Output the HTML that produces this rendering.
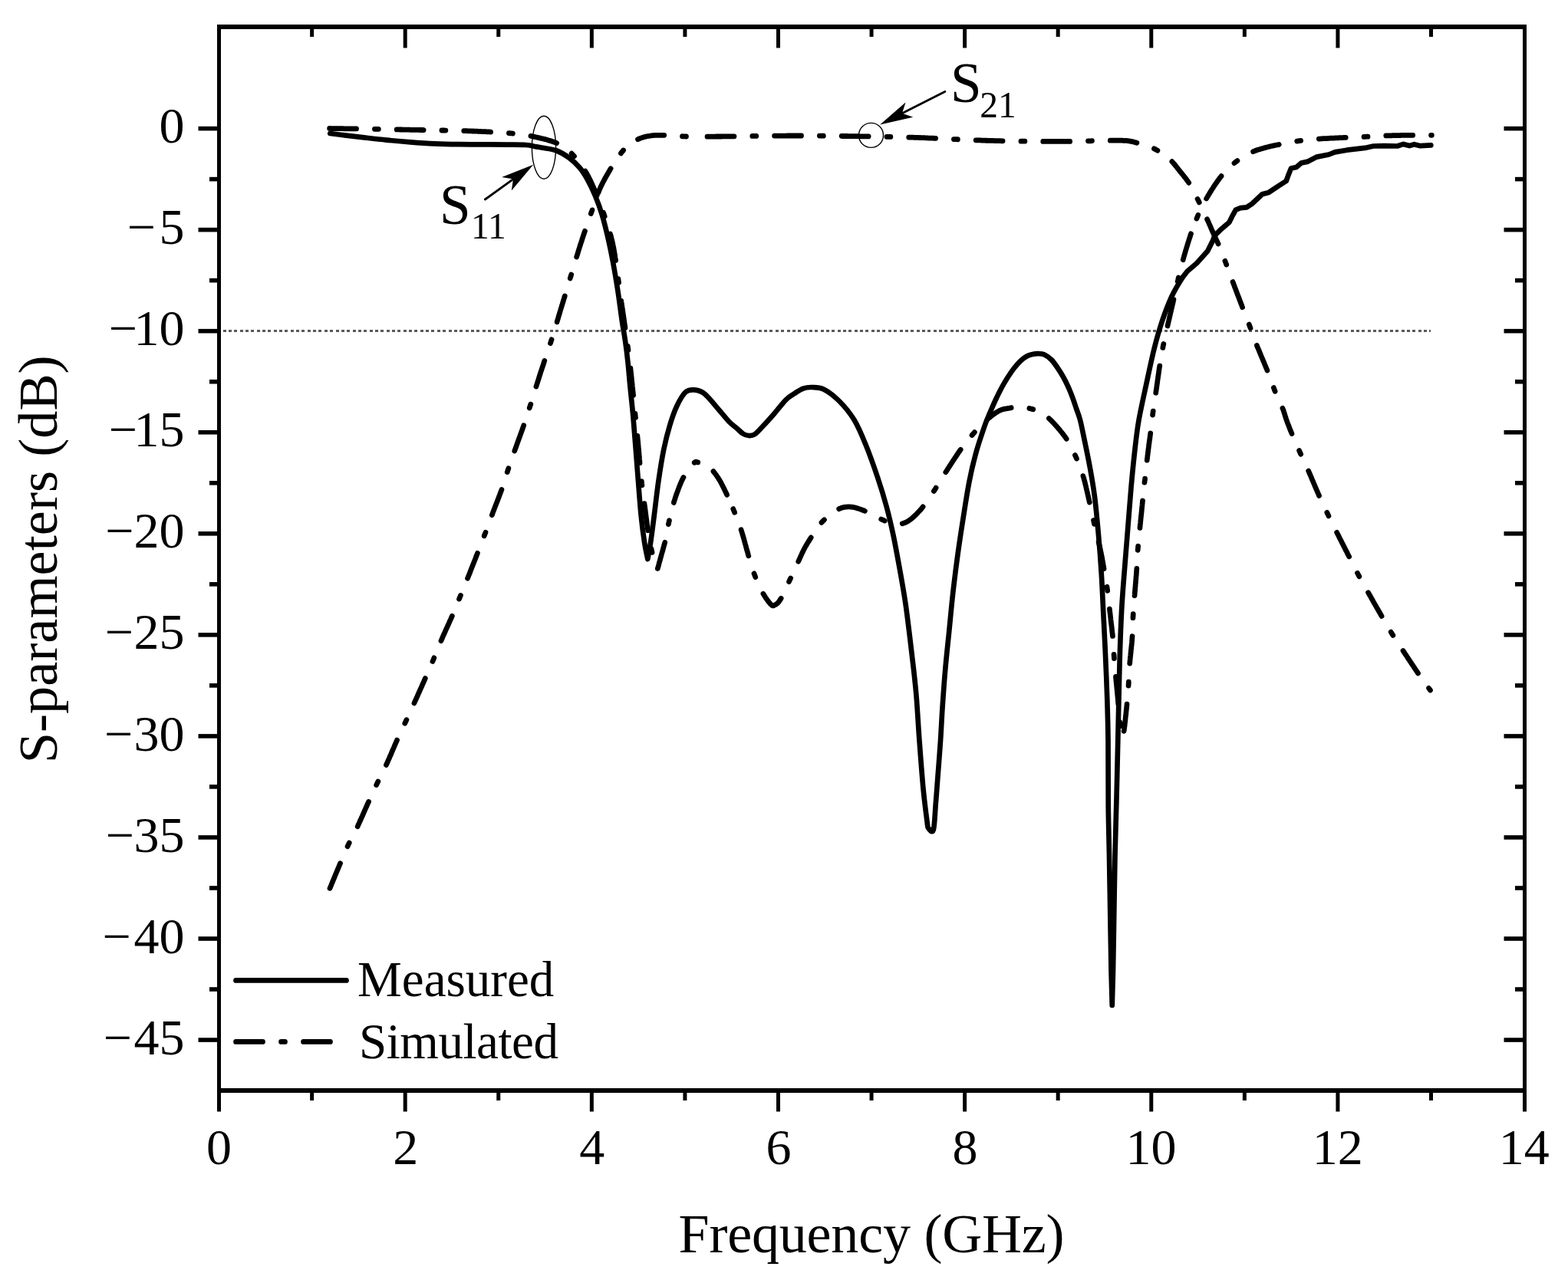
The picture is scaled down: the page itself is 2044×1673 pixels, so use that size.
<!DOCTYPE html>
<html lang="en"><head><meta charset="utf-8"><title>S-parameters</title>
<style>html,body{margin:0;padding:0;background:#fff}body{width:2044px;height:1673px;overflow:hidden}svg{display:block}text{font-family:"Liberation Serif",serif;fill:#000}</style>
</head><body>
<svg width="2044" height="1673" viewBox="0 0 2044 1673">
<rect width="2044" height="1673" fill="#fff"/>
<line x1="288" y1="431.5" x2="1865" y2="431.5" stroke="#5a5a5a" stroke-width="3" stroke-dasharray="4 3.35" stroke-dashoffset="-2.5" shape-rendering="crispEdges"/>
<g fill="none" stroke="#000" stroke-width="6.70" stroke-linecap="round" stroke-linejoin="round">
<path transform="scale(1 1.01250)" d="M429.8 1144.5L430.1 1143.7L430.5 1142.9L430.9 1141.9L431.4 1140.8L431.9 1139.6L432.4 1138.3L433.0 1136.9L433.6 1135.5L434.2 1134.0L434.8 1132.5L435.5 1130.9L436.2 1129.3L436.8 1127.7L437.5 1126.1L438.2 1124.4L438.9 1122.8L439.6 1121.2L440.3 1119.6L440.9 1118.0L441.6 1116.5L442.2 1115.1L442.8 1113.7L443.3 1112.3L443.9 1111.1L444.4 1109.7L445.2 1108.1L445.8 1106.5L446.5 1104.9L447.1 1103.5L447.7 1102.1L448.3 1100.7L448.8 1099.4L449.4 1098.1L449.9 1096.9L450.5 1095.6L451.1 1094.4L451.6 1093.1L452.2 1091.8L452.8 1090.5L453.5 1089.1L454.1 1087.8L454.7 1086.5L455.4 1085.2L456.0 1083.9L456.7 1082.7L457.3 1081.4L458.0 1080.2L458.7 1078.9L459.3 1077.6L460.0 1076.3L460.7 1075.0L461.4 1073.7L462.2 1072.3L462.9 1070.9L463.6 1069.4L464.4 1067.9L465.2 1066.3L465.9 1064.8L466.5 1063.6L467.0 1062.3L467.7 1061.0L468.3 1059.7L468.9 1058.3L469.6 1056.9L470.2 1055.5L470.9 1054.0L471.5 1052.5L472.2 1051.1L472.9 1049.6L473.5 1048.1L474.2 1046.6L474.9 1045.1L475.5 1043.6L476.2 1042.1L476.8 1040.7L477.5 1039.3L478.1 1037.9L478.7 1036.5L479.3 1035.2L479.9 1033.9L480.5 1032.7L481.0 1031.5L481.8 1029.8L482.5 1028.2L483.2 1026.7L483.9 1025.2L484.6 1023.8L485.2 1022.4L485.8 1021.1L486.4 1019.8L487.1 1018.5L487.7 1017.2L488.3 1015.9L488.9 1014.7L489.5 1013.4L490.1 1012.1L490.7 1010.8L491.4 1009.4L492.0 1008.1L492.7 1006.8L493.3 1005.5L494.0 1004.2L494.6 1003.0L495.2 1001.7L495.9 1000.5L496.5 999.3L497.2 998.0L497.8 996.7L498.5 995.4L499.2 994.0L499.9 992.6L500.6 991.1L501.4 989.6L502.1 988.0L502.9 986.4L503.4 985.2L504.0 984.0L504.6 982.7L505.2 981.3L505.8 980.0L506.4 978.6L507.1 977.2L507.7 975.7L508.3 974.2L509.0 972.8L509.7 971.3L510.3 969.7L511.0 968.2L511.6 966.7L512.3 965.2L512.9 963.8L513.6 962.3L514.2 960.8L514.8 959.4L515.4 958.0L516.0 956.7L516.6 955.4L517.2 954.1L517.7 952.9L518.4 951.5L519.1 949.9L519.8 948.3L520.5 946.8L521.2 945.4L521.9 944.0L522.5 942.6L523.1 941.3L523.8 940.0L524.4 938.8L525.0 937.5L525.6 936.3L526.2 935.0L526.8 933.7L527.4 932.4L528.0 931.1L528.7 929.7L529.3 928.4L529.9 927.1L530.6 925.8L531.2 924.5L531.8 923.2L532.4 921.9L533.0 920.6L533.6 919.3L534.2 918.0L534.8 916.7L535.4 915.3L536.1 914.0L536.7 912.6L537.4 911.1L538.1 909.6L538.8 908.1L539.5 906.5L540.2 905.0L540.7 903.8L541.3 902.6L541.9 901.3L542.5 899.9L543.1 898.6L543.8 897.2L544.4 895.7L545.0 894.3L545.7 892.9L546.4 891.4L547.0 889.9L547.7 888.4L548.3 887.0L549.0 885.5L549.7 884.1L550.3 882.6L550.9 881.2L551.6 879.8L552.2 878.4L552.8 877.1L553.4 875.8L553.9 874.5L554.5 873.3L555.0 872.1L555.7 870.4L556.5 868.8L557.1 867.3L557.8 865.8L558.4 864.4L559.0 863.0L559.6 861.7L560.2 860.4L560.8 859.1L561.4 857.8L561.9 856.5L562.5 855.2L563.0 853.9L563.6 852.6L564.2 851.3L564.8 849.9L565.4 848.5L565.9 847.2L566.5 845.8L567.0 844.5L567.6 843.2L568.1 841.9L568.6 840.6L569.2 839.3L569.7 837.9L570.2 836.6L570.8 835.2L571.4 833.8L571.9 832.4L572.6 830.9L573.2 829.4L573.8 827.9L574.5 826.3L575.2 824.8L575.7 823.6L576.3 822.3L576.8 821.0L577.4 819.7L578.0 818.3L578.7 816.9L579.3 815.5L580.0 814.1L580.6 812.6L581.3 811.2L581.9 809.7L582.6 808.3L583.3 806.8L583.9 805.3L584.6 803.9L585.3 802.4L585.9 801.0L586.5 799.6L587.2 798.2L587.8 796.9L588.4 795.6L588.9 794.3L589.5 793.1L590.0 791.9L590.7 790.2L591.4 788.6L592.1 787.1L592.7 785.6L593.3 784.1L593.9 782.7L594.5 781.3L595.1 779.9L595.6 778.6L596.2 777.2L596.7 775.9L597.2 774.6L597.8 773.3L598.3 771.9L598.9 770.6L599.4 769.3L600.0 767.9L600.6 766.5L601.2 765.1L601.7 763.8L602.3 762.5L602.8 761.2L603.3 759.9L603.9 758.6L604.4 757.3L605.0 756.0L605.5 754.6L606.1 753.3L606.7 751.8L607.3 750.4L607.9 748.8L608.6 747.2L609.3 745.5L609.8 744.1L610.3 742.9L610.8 741.6L611.4 740.3L611.9 739.0L612.5 737.6L613.0 736.1L613.6 734.7L614.2 733.2L614.8 731.7L615.4 730.2L616.0 728.7L616.6 727.2L617.2 725.7L617.8 724.2L618.4 722.7L619.0 721.2L619.6 719.7L620.1 718.3L620.7 716.9L621.2 715.5L621.8 714.1L622.3 712.8L622.8 711.6L623.2 710.4L623.9 708.7L624.6 707.0L625.2 705.5L625.8 704.0L626.4 702.5L626.9 701.1L627.5 699.7L628.0 698.4L628.5 697.1L629.1 695.8L629.6 694.5L630.1 693.2L630.6 691.9L631.1 690.5L631.6 689.2L632.1 687.8L632.7 686.4L633.2 685.1L633.7 683.7L634.2 682.4L634.7 681.1L635.2 679.8L635.6 678.6L636.1 677.3L636.6 676.0L637.1 674.6L637.6 673.3L638.1 671.9L638.6 670.4L639.2 668.9L639.8 667.4L640.4 665.8L641.0 664.0L641.6 662.7L642.0 661.4L642.5 660.1L643.0 658.8L643.6 657.4L644.1 656.0L644.7 654.6L645.2 653.1L645.8 651.6L646.4 650.1L647.0 648.6L647.6 647.1L648.2 645.6L648.8 644.0L649.4 642.5L650.0 641.0L650.6 639.5L651.1 638.0L651.7 636.5L652.2 635.1L652.8 633.7L653.3 632.3L653.8 631.0L654.3 629.7L654.7 628.4L655.2 627.1L655.8 625.3L656.4 623.7L656.9 622.1L657.4 620.6L657.9 619.1L658.3 617.7L658.7 616.3L659.1 615.0L659.5 613.7L659.9 612.4L660.3 611.1L660.7 609.7L661.1 608.4L661.6 607.0L662.0 605.6L662.5 604.2L663.0 602.8L663.4 601.5L663.9 600.1L664.4 598.8L664.8 597.5L665.3 596.1L665.8 594.8L666.2 593.5L666.7 592.1L667.2 590.7L667.7 589.3L668.2 587.9L668.8 586.4L669.3 584.9L669.9 583.3L670.5 581.7L671.0 580.1L671.5 578.7L672.0 577.4L672.5 576.1L673.0 574.7L673.5 573.3L674.0 571.9L674.5 570.4L675.1 568.9L675.6 567.4L676.2 565.9L676.7 564.4L677.3 562.9L677.9 561.3L678.4 559.8L679.0 558.3L679.5 556.8L680.1 555.3L680.6 553.8L681.1 552.4L681.6 551.0L682.1 549.6L682.6 548.3L683.0 547.0L683.5 545.7L684.0 544.3L684.5 542.7L685.1 541.1L685.6 539.7L686.0 538.4L686.4 537.1L686.8 535.9L687.2 534.7L687.6 533.5L688.0 532.3L688.4 531.0L688.9 529.7L689.3 528.2L689.8 526.6L690.4 524.8L691.0 522.9L691.5 521.5L691.9 520.3L692.2 519.1L692.6 517.9L693.0 516.6L693.5 515.3L693.9 514.0L694.3 512.6L694.8 511.2L695.2 509.7L695.7 508.3L696.1 506.8L696.6 505.3L697.1 503.8L697.6 502.3L698.1 500.7L698.5 499.2L699.0 497.6L699.5 496.1L700.0 494.5L700.5 493.0L701.0 491.4L701.5 489.9L702.0 488.3L702.5 486.8L703.0 485.3L703.4 483.8L703.9 482.3L704.4 480.9L704.8 479.5L705.3 478.0L705.8 476.6L706.3 475.1L706.8 473.6L707.3 472.2L707.8 470.7L708.3 469.3L708.8 467.8L709.2 466.4L709.7 464.9L710.2 463.5L710.7 462.1L711.2 460.6L711.7 459.2L712.2 457.8L712.7 456.3L713.2 454.9L713.7 453.5L714.2 452.1L714.6 450.7L715.1 449.2L715.6 447.8L716.1 446.4L716.6 445.0L717.0 443.5L717.5 442.1L718.0 440.7L718.4 439.2L718.9 437.8L719.4 436.4L719.8 434.9L720.3 433.5L720.7 432.1L721.2 430.6L721.6 429.2L722.1 427.8L722.5 426.4L722.9 424.9L723.4 423.5L723.8 422.1L724.2 420.7L724.7 419.2L725.1 417.8L725.5 416.4L726.0 415.0L726.4 413.5L726.8 412.1L727.3 410.7L727.7 409.2L728.1 407.8L728.6 406.3L729.0 404.9L729.5 403.4L729.9 401.9L730.3 400.5L730.8 399.0L731.2 397.5L731.7 396.1L732.1 394.7L732.5 393.3L733.0 391.9L733.4 390.5L733.9 389.0L734.3 387.6L734.7 386.2L735.2 384.7L735.6 383.3L736.1 381.8L736.5 380.4L737.0 378.9L737.4 377.5L737.8 376.0L738.3 374.5L738.7 373.1L739.2 371.6L739.6 370.2L740.1 368.7L740.5 367.3L741.0 365.8L741.4 364.4L741.9 362.9L742.3 361.5L742.7 360.0L743.2 358.6L743.6 357.2L744.1 355.7L744.5 354.3L745.0 352.9L745.4 351.4L745.8 349.9L746.3 348.5L746.7 347.0L747.2 345.5L747.6 344.1L748.1 342.6L748.5 341.2L749.0 339.7L749.4 338.3L749.8 336.8L750.3 335.4L750.7 333.9L751.2 332.5L751.6 331.0L752.0 329.6L752.5 328.2L752.9 326.7L753.4 325.3L753.8 323.8L754.3 322.4L754.7 321.0L755.2 319.5L755.6 318.1L756.1 316.7L756.6 315.2L757.0 313.8L757.5 312.3L758.0 310.9L758.5 309.5L758.9 308.0L759.4 306.5L759.9 305.0L760.4 303.6L760.9 302.1L761.4 300.6L761.9 299.1L762.5 297.6L763.0 296.1L763.5 294.6L764.0 293.1L764.5 291.7L765.0 290.2L765.5 288.7L766.0 287.3L766.5 285.8L767.0 284.4L767.5 283.0L768.0 281.6L768.5 280.2L769.0 278.8L769.5 277.5L770.0 276.2L770.4 274.9L770.9 273.6L771.3 272.3L771.8 271.1L772.3 269.4L772.9 267.8L773.5 266.2L774.0 264.7L774.5 263.2L775.0 261.7L775.5 260.3L776.0 258.9L776.4 257.5L776.9 256.1L777.4 254.8L777.9 253.4L778.4 252.1L778.8 250.8L779.3 249.5L779.9 248.2L780.4 246.9L780.9 245.6L781.5 244.2L782.1 242.9L782.7 241.5L783.4 240.1L784.0 238.8L784.7 237.4L785.4 236.0L786.1 234.6L786.9 233.2L787.6 231.8L788.4 230.4L789.1 229.0L789.9 227.7L790.7 226.3L791.5 225.0L792.2 223.7L793.0 222.4L793.7 221.1L794.5 219.9L795.2 218.6L795.9 217.4L796.6 216.3L797.3 215.2L798.1 213.8L799.1 212.2L800.0 210.8L800.9 209.4L801.8 208.0L802.6 206.7L803.5 205.4L804.3 204.2L805.2 203.0L806.0 201.8L806.8 200.7L807.7 199.6L808.5 198.5L809.3 197.5L810.3 196.2L811.4 194.9L812.5 193.7L813.5 192.5L814.5 191.4L815.6 190.3L816.6 189.3L817.7 188.3L818.8 187.3L819.9 186.4L821.0 185.5L822.3 184.5L823.6 183.7L824.9 182.8L826.2 182.0L827.6 181.3L828.9 180.6L830.3 179.9L831.7 179.3L833.1 178.7L834.5 178.2L835.9 177.7L837.3 177.2L838.8 176.7L840.2 176.3L841.7 176.0L843.2 175.6L844.7 175.3L846.3 175.1L848.0 174.8L849.3 174.6L850.6 174.5L852.0 174.4L853.3 174.3L854.7 174.2L856.1 174.1L857.5 174.1L859.0 174.1L860.6 174.1L862.3 174.1L864.1 174.1L866.0 174.1L867.3 174.2L868.6 174.2L869.9 174.3L871.4 174.3L872.9 174.4L874.4 174.5L875.9 174.6L877.5 174.7L879.1 174.8L880.7 174.9L882.3 175.1L883.9 175.2L885.5 175.3L887.1 175.4L888.7 175.5L890.2 175.6L891.7 175.7L893.1 175.7L894.5 175.8L896.0 175.8L897.3 175.9L898.2 175.9L898.9 176.0L899.5 176.0L900.0 176.0L900.5 176.1L901.1 176.1L901.9 176.1L902.9 176.1L904.2 176.1L906.0 176.1L908.2 176.1L910.0 176.1" stroke-dasharray="35 23.8 5 23.8" stroke-dashoffset="87.1"/>
<path transform="scale(1 1.01250)" d="M910.0 176.1L913.2 176.0L917.0 176.0L919.1 176.0L920.0 176.0L921.0 176.0L922.0 176.0L923.1 176.0L924.1 176.0L925.2 175.9L926.3 175.9L927.5 175.9L928.7 175.9L929.9 175.9L931.1 175.9L932.4 175.9L933.6 175.8L934.9 175.8L936.3 175.8L937.6 175.8L939.0 175.8L940.4 175.8L941.8 175.7L943.2 175.7L944.7 175.7L946.2 175.7L947.6 175.7L949.1 175.7L950.7 175.6L952.2 175.6L953.8 175.6L955.3 175.6L956.9 175.6L958.5 175.5L960.1 175.5L961.7 175.5L963.4 175.5L965.0 175.5L966.6 175.4L968.3 175.4L970.0 175.4L971.6 175.4L973.3 175.3L975.0 175.3L976.7 175.3L978.4 175.3L980.1 175.3L981.8 175.2L983.5 175.2L985.2 175.2L986.9 175.2L988.6 175.2L990.3 175.1L992.0 175.1L993.7 175.1L995.4 175.1L997.1 175.1L998.8 175.1L1000.5 175.0L1002.2 175.0L1003.8 175.0L1005.5 175.0L1007.2 175.0L1008.8 175.0L1010.5 174.9L1012.1 174.9L1013.7 174.9L1015.4 174.9L1017.0 174.9L1018.6 174.9L1020.1 174.9L1021.7 174.9L1023.3 174.9L1024.8 174.9L1026.3 174.8L1027.8 174.8L1029.3 174.8L1030.8 174.8L1032.2 174.8L1033.7 174.8L1035.1 174.8L1036.5 174.8L1038.2 174.8L1039.8 174.8L1041.4 174.8L1043.1 174.8L1044.7 174.8L1046.3 174.8L1048.0 174.8L1049.6 174.8L1051.2 174.8L1052.8 174.8L1054.5 174.8L1056.1 174.9L1057.7 174.9L1059.3 174.9L1061.0 174.9L1062.6 174.9L1064.2 174.9L1065.8 174.9L1067.4 174.9L1069.0 174.9L1070.6 175.0L1072.2 175.0L1073.8 175.0L1075.4 175.0L1077.0 175.0L1078.5 175.0L1080.1 175.0L1081.7 175.1L1083.2 175.1L1084.8 175.1L1086.4 175.1L1087.9 175.1L1089.4 175.1L1091.0 175.2L1092.5 175.2L1094.0 175.2L1095.5 175.2L1097.0 175.2L1098.5 175.3L1100.0 175.3L1101.5 175.3L1103.0 175.3L1104.5 175.3L1105.9 175.4L1107.4 175.4L1108.8 175.4L1110.3 175.4L1111.7 175.4L1113.1 175.5L1114.5 175.5L1115.9 175.5L1117.3 175.5L1118.7 175.5L1120.0 175.6L1121.4 175.6L1122.8 175.6L1124.1 175.6L1125.4 175.6L1126.7 175.7L1128.0 175.7L1129.3 175.7L1130.6 175.7L1131.9 175.7L1133.1 175.8L1134.4 175.8L1135.6 175.8L1137.3 175.8L1139.2 175.9L1141.0 175.9L1142.8 175.9L1144.5 175.9L1146.2 176.0L1147.8 176.0L1149.5 176.0L1151.0 176.0L1152.5 176.1L1154.0 176.1L1155.5 176.1L1157.0 176.1L1158.4 176.2L1159.8 176.2L1161.1 176.2L1162.5 176.3L1163.8 176.3L1165.2 176.3L1166.5 176.3L1167.8 176.4L1169.1 176.4L1170.4 176.4L1171.7 176.5L1173.1 176.5L1174.4 176.5L1175.7 176.6L1177.1 176.6L1178.4 176.6L1179.8 176.7L1181.2 176.7L1182.6 176.8L1184.0 176.8L1185.5 176.9L1187.0 176.9L1188.5 176.9L1190.1 177.0L1191.7 177.1L1193.3 177.1L1195.0 177.2L1196.7 177.2L1198.5 177.3L1199.8 177.3L1201.1 177.4L1202.4 177.4L1203.8 177.5L1205.1 177.5L1206.5 177.6L1207.8 177.6L1209.2 177.7L1210.6 177.8L1212.0 177.8L1213.4 177.9L1214.9 177.9L1216.3 178.0L1217.8 178.1L1219.2 178.1L1220.7 178.2L1222.2 178.3L1223.7 178.3L1225.1 178.4L1226.6 178.5L1228.2 178.6L1229.7 178.6L1231.2 178.7L1232.7 178.8L1234.3 178.8L1235.8 178.9L1237.3 179.0L1238.9 179.1L1240.4 179.1L1242.0 179.2L1243.5 179.3L1245.1 179.4L1246.7 179.4L1248.2 179.5L1249.8 179.6L1251.4 179.6L1252.9 179.7L1254.5 179.8L1256.1 179.9L1257.7 179.9L1259.2 180.0L1260.8 180.1L1262.4 180.1L1263.9 180.2L1265.5 180.3L1267.1 180.3L1268.6 180.4L1270.2 180.5L1271.7 180.5L1273.3 180.6L1274.8 180.6L1276.4 180.7L1277.9 180.7L1279.4 180.8L1281.0 180.8L1282.5 180.9L1284.0 180.9L1285.5 181.0L1287.0 181.0L1288.5 181.1L1290.0 181.1L1291.6 181.1L1293.1 181.2L1294.7 181.2L1296.2 181.3L1297.8 181.3L1299.4 181.3L1301.0 181.4L1302.5 181.4L1304.1 181.4L1305.7 181.5L1307.3 181.5L1308.9 181.5L1310.6 181.5L1312.2 181.6L1313.8 181.6L1315.4 181.6L1317.0 181.7L1318.6 181.7L1320.2 181.7L1321.8 181.7L1323.5 181.8L1325.1 181.8L1326.7 181.8L1328.3 181.8L1329.9 181.9L1331.5 181.9L1333.0 181.9L1334.6 181.9L1336.2 181.9L1337.8 181.9L1339.3 182.0L1340.9 182.0L1342.4 182.0L1343.9 182.0L1345.5 182.0L1347.0 182.0L1348.5 182.1L1349.9 182.1L1351.4 182.1L1352.9 182.1L1354.3 182.1L1355.7 182.1L1357.2 182.1L1358.6 182.1L1359.9 182.2L1361.3 182.2L1362.7 182.2L1364.0 182.2L1365.3 182.2L1366.6 182.2L1367.9 182.2L1369.1 182.2L1370.3 182.2L1371.5 182.2L1372.7 182.2L1374.2 182.2L1376.3 182.2L1378.3 182.2L1380.2 182.2L1382.1 182.2L1383.9 182.2L1385.6 182.2L1387.3 182.2L1389.0 182.2L1390.6 182.1L1392.1 182.1L1393.6 182.1L1395.1 182.1L1396.5 182.0L1397.9 182.0L1399.3 182.0L1400.7 181.9L1402.0 181.9L1403.3 181.9L1404.6 181.8L1405.9 181.8L1407.2 181.8L1408.5 181.7L1409.8 181.7L1411.1 181.7L1412.4 181.6L1413.7 181.6L1415.0 181.6L1416.4 181.6L1417.7 181.5L1419.1 181.5L1420.5 181.5L1422.0 181.5L1423.6 181.4L1425.2 181.4L1426.9 181.4L1428.5 181.3L1430.1 181.3L1431.8 181.3L1433.4 181.2L1435.0 181.2L1436.7 181.1L1438.3 181.1L1439.9 181.1L1441.5 181.0L1443.1 181.0L1444.7 181.0L1446.3 180.9L1447.9 180.9L1449.4 180.9L1450.9 180.8L1452.4 180.8L1453.8 180.8L1455.3 180.8L1456.6 180.8L1458.0 180.8L1459.3 180.8L1460.6 180.9L1461.8 180.9L1463.0 180.9L1464.1 181.0L1466.0 181.1L1468.1 181.2L1470.0 181.4L1471.7 181.6L1473.2 181.8L1474.6 182.1L1475.9 182.3L1477.1 182.6L1478.3 183.0L1479.6 183.3L1480.8 183.6L1482.1 184.0L1483.5 184.4L1485.0 184.8L1486.4 185.2L1487.8 185.6L1489.2 186.0L1490.6 186.4L1492.1 186.8L1493.5 187.3L1495.0 187.7L1496.4 188.2L1497.8 188.7L1499.3 189.3L1500.7 189.8L1502.1 190.4L1503.5 191.0L1504.9 191.7L1506.2 192.3L1507.5 193.0L1508.8 193.7L1510.2 194.5L1511.5 195.3L1512.8 196.1L1514.0 196.9L1515.3 197.8L1516.6 198.6L1517.8 199.5L1519.0 200.4L1520.2 201.4L1521.4 202.3L1522.6 203.3L1523.7 204.3L1524.9 205.3L1526.0 206.3L1527.1 207.4L1528.2 208.5L1529.2 209.7L1530.3 210.9L1531.3 212.0L1532.3 213.3L1533.3 214.5L1534.3 215.7L1535.2 216.9L1536.2 218.1L1537.1 219.2L1538.0 220.4L1538.9 221.5L1539.9 222.7L1540.9 223.9L1541.9 225.1L1542.8 226.2L1543.7 227.4L1544.6 228.5L1545.5 229.6L1546.4 230.7L1547.2 231.9L1548.1 233.1L1549.0 234.3L1549.8 235.6L1550.8 237.0L1551.5 238.2L1552.2 239.4L1552.9 240.6L1553.6 241.9L1554.3 243.2L1555.1 244.5L1555.8 245.9L1556.5 247.2L1557.2 248.6L1557.9 250.0L1558.6 251.4L1559.4 252.8L1560.1 254.2L1560.8 255.7L1561.5 257.1L1562.2 258.5L1562.9 259.8L1563.5 261.1L1564.2 262.4L1564.9 263.8L1565.5 265.2L1566.2 266.6L1566.9 268.0L1567.6 269.4L1568.2 270.8L1568.9 272.2L1569.5 273.5L1570.2 274.9L1570.8 276.3L1571.5 277.6L1572.1 278.9L1572.7 280.2L1573.2 281.5L1573.9 283.0L1574.6 284.5L1575.3 285.9L1575.9 287.4L1576.5 288.8L1577.2 290.2L1577.8 291.6L1578.4 293.0L1578.9 294.3L1579.5 295.7L1580.1 297.0L1580.7 298.3L1581.2 299.6L1581.8 300.8L1582.5 302.2L1583.1 303.7L1583.8 305.0L1584.4 306.3L1585.0 307.6L1585.6 308.9L1586.3 310.2L1586.9 311.5L1587.5 312.8L1588.2 314.2L1588.8 315.7L1589.5 317.3L1590.0 318.5L1590.6 319.8L1591.1 321.1L1591.6 322.5L1592.2 323.9L1592.8 325.3L1593.3 326.7L1593.9 328.2L1594.5 329.6L1595.0 331.1L1595.6 332.6L1596.2 334.1L1596.7 335.6L1597.3 337.1L1597.9 338.5L1598.4 340.0L1598.9 341.3L1599.4 342.6L1599.9 343.9L1600.4 345.2L1600.9 346.5L1601.4 347.8L1601.8 349.1L1602.3 350.4L1602.8 351.7L1603.3 353.1L1603.8 354.5L1604.4 356.0L1604.9 357.5L1605.5 359.0L1606.1 360.7L1606.8 362.4L1607.3 363.8L1607.8 365.0L1608.3 366.3L1608.8 367.6L1609.3 369.0L1609.8 370.4L1610.4 371.8L1611.0 373.3L1611.5 374.8L1612.1 376.3L1612.7 377.9L1613.3 379.4L1613.9 380.9L1614.5 382.5L1615.1 384.0L1615.6 385.5L1616.2 387.0L1616.8 388.5L1617.4 390.0L1617.9 391.4L1618.5 392.8L1619.0 394.2L1619.5 395.5L1620.0 396.8L1620.4 398.0L1621.0 399.4L1621.7 401.1L1622.3 402.8L1622.9 404.4L1623.5 405.9L1624.1 407.3L1624.6 408.7L1625.2 410.0L1625.7 411.3L1626.2 412.6L1626.7 413.9L1627.2 415.1L1627.7 416.4L1628.2 417.7L1628.8 419.1L1629.3 420.5L1629.8 421.9L1630.3 423.2L1630.8 424.5L1631.3 425.8L1631.8 427.1L1632.2 428.4L1632.7 429.7L1633.2 431.0L1633.6 432.3L1634.1 433.7L1634.6 435.0L1635.2 436.5L1635.7 437.9L1636.3 439.5L1636.9 441.0L1637.6 442.7L1638.2 444.4L1638.7 445.6L1639.2 446.9L1639.8 448.1L1640.3 449.5L1640.9 450.8L1641.5 452.2L1642.1 453.7L1642.7 455.1L1643.3 456.6L1643.9 458.1L1644.6 459.6L1645.2 461.1L1645.9 462.6L1646.5 464.1L1647.1 465.6L1647.8 467.1L1648.4 468.6L1649.0 470.1L1649.6 471.5L1650.2 472.9L1650.8 474.3L1651.4 475.7L1651.9 477.0L1652.4 478.2L1652.9 479.5L1653.5 480.8L1654.2 482.5L1654.8 484.2L1655.4 485.7L1655.9 487.3L1656.5 488.7L1657.0 490.1L1657.5 491.5L1657.9 492.8L1658.4 494.1L1658.9 495.4L1659.3 496.7L1659.8 498.0L1660.3 499.3L1660.8 500.6L1661.3 501.9L1661.8 503.2L1662.4 504.7L1663.0 506.1L1663.7 507.6L1664.3 509.0L1665.0 510.5L1665.7 512.0L1666.3 513.4L1667.0 514.9L1667.7 516.3L1668.3 517.7L1669.0 519.1L1669.6 520.5L1670.2 521.8L1670.8 523.1L1671.3 524.3L1671.8 525.5L1672.5 527.1L1673.1 528.7L1673.6 530.2L1674.0 531.6L1674.5 532.9L1674.9 534.2L1675.2 535.5L1675.7 536.8L1676.1 538.2L1676.6 539.7L1677.2 541.2L1677.6 542.4L1678.1 543.8L1678.6 545.1L1679.1 546.4L1679.7 547.8L1680.2 549.2L1680.8 550.6L1681.3 552.1L1681.9 553.5L1682.5 555.0L1683.2 556.6L1683.8 558.1L1684.5 559.8L1685.0 561.0L1685.6 562.3L1686.2 563.7L1686.8 565.0L1687.4 566.4L1688.0 567.8L1688.6 569.2L1689.3 570.7L1689.9 572.1L1690.6 573.5L1691.2 575.0L1691.9 576.4L1692.5 577.9L1693.1 579.3L1693.8 580.7L1694.4 582.1L1695.0 583.5L1695.7 584.9L1696.3 586.2L1696.9 587.6L1697.5 588.8L1698.1 590.1L1698.7 591.4L1699.3 592.6L1699.9 593.9L1700.5 595.2L1701.1 596.5L1701.7 597.8L1702.3 599.1L1703.0 600.5L1703.6 602.0L1704.3 603.5L1705.0 605.0L1705.8 606.7L1706.3 607.9L1706.8 609.1L1707.4 610.4L1708.0 611.7L1708.6 613.1L1709.2 614.5L1709.8 615.9L1710.4 617.4L1711.0 618.8L1711.7 620.3L1712.3 621.8L1713.0 623.3L1713.6 624.8L1714.2 626.3L1714.9 627.8L1715.5 629.2L1716.1 630.7L1716.8 632.1L1717.4 633.5L1718.0 634.9L1718.6 636.2L1719.1 637.5L1719.7 638.8L1720.2 640.0L1721.0 641.6L1721.7 643.2L1722.4 644.6L1723.1 646.1L1723.7 647.5L1724.4 648.9L1725.0 650.2L1725.6 651.5L1726.3 652.8L1726.9 654.0L1727.5 655.3L1728.1 656.6L1728.7 657.8L1729.4 659.1L1730.0 660.4L1730.6 661.7L1731.3 663.0L1731.9 664.4L1732.6 665.7L1733.2 667.0L1733.9 668.3L1734.5 669.6L1735.1 670.8L1735.8 672.1L1736.4 673.4L1737.1 674.7L1737.7 676.0L1738.4 677.3L1739.1 678.6L1739.7 680.0L1740.5 681.4L1741.2 682.9L1741.9 684.3L1742.7 685.9L1743.4 687.3L1744.1 688.5L1744.7 689.7L1745.3 691.0L1746.0 692.3L1746.7 693.7L1747.4 695.0L1748.1 696.4L1748.8 697.8L1749.5 699.2L1750.3 700.6L1751.0 702.0L1751.7 703.5L1752.5 704.9L1753.2 706.3L1753.9 707.7L1754.6 709.1L1755.4 710.5L1756.1 711.8L1756.7 713.2L1757.4 714.5L1758.1 715.7L1758.7 716.9L1759.3 718.1L1760.0 719.6L1760.8 721.1L1761.6 722.6L1762.3 724.0L1763.0 725.4L1763.7 726.7L1764.4 728.0L1765.0 729.3L1765.7 730.6L1766.3 731.9L1767.0 733.1L1767.6 734.4L1768.3 735.6L1768.9 736.9L1769.6 738.2L1770.3 739.5L1771.0 740.8L1771.7 742.1L1772.4 743.4L1773.1 744.7L1773.8 745.9L1774.5 747.2L1775.2 748.5L1776.0 749.7L1776.7 751.0L1777.4 752.3L1778.1 753.6L1778.9 754.9L1779.6 756.2L1780.4 757.5L1781.2 758.9L1782.0 760.3L1782.8 761.7L1783.6 763.2L1784.5 764.7L1785.2 765.9L1785.9 767.1L1786.6 768.3L1787.3 769.6L1788.0 770.9L1788.8 772.2L1789.6 773.6L1790.3 774.9L1791.1 776.3L1791.9 777.7L1792.7 779.0L1793.5 780.4L1794.3 781.8L1795.1 783.2L1795.9 784.5L1796.7 785.9L1797.4 787.2L1798.2 788.5L1799.0 789.8L1799.7 791.1L1800.4 792.3L1801.1 793.5L1801.8 794.7L1802.6 796.1L1803.5 797.6L1804.3 799.0L1805.1 800.4L1805.9 801.8L1806.7 803.1L1807.5 804.4L1808.2 805.7L1809.0 806.9L1809.7 808.2L1810.4 809.4L1811.2 810.6L1811.9 811.9L1812.7 813.1L1813.4 814.3L1814.2 815.6L1815.0 816.9L1815.8 818.1L1816.6 819.4L1817.4 820.6L1818.2 821.8L1818.9 823.0L1819.7 824.2L1820.5 825.4L1821.3 826.6L1822.1 827.8L1822.9 829.0L1823.7 830.2L1824.6 831.4L1825.4 832.7L1826.3 834.0L1827.2 835.4L1828.2 836.8L1829.2 838.3L1830.0 839.5L1830.7 840.6L1831.5 841.8L1832.3 843.0L1833.2 844.2L1834.0 845.5L1834.9 846.8L1835.7 848.1L1836.6 849.4L1837.5 850.7L1838.4 852.1L1839.3 853.4L1840.2 854.8L1841.1 856.1L1842.0 857.4L1842.9 858.7L1843.8 860.1L1844.6 861.3L1845.5 862.6L1846.3 863.8L1847.2 865.0L1848.0 866.2L1848.7 867.3L1849.5 868.4L1850.6 869.9L1851.6 871.4L1852.7 872.9L1853.8 874.4L1854.8 875.9L1855.9 877.3L1856.9 878.7L1857.9 880.1L1858.9 881.4L1859.8 882.6L1860.7 883.8L1861.5 884.9L1862.3 885.9L1863.0 886.9L1863.6 887.7L1864.2 888.5L1864.5 888.9" stroke-dasharray="35 23.8 5 23.8" stroke-dashoffset="75.6"/>
<path transform="scale(1 1.01250)" d="M429.6 165.4L430.4 165.4L431.3 165.5L432.2 165.5L433.3 165.5L434.4 165.5L435.5 165.5L436.8 165.5L438.1 165.5L439.4 165.5L440.8 165.6L442.3 165.6L443.8 165.6L445.3 165.6L446.9 165.6L448.5 165.7L450.2 165.7L451.9 165.7L453.6 165.7L455.3 165.7L457.0 165.8L458.8 165.8L460.5 165.8L462.3 165.8L464.1 165.8L465.8 165.9L467.6 165.9L469.4 165.9L471.1 165.9L472.8 166.0L474.5 166.0L476.2 166.0L477.9 166.0L479.5 166.1L481.1 166.1L482.6 166.1L484.2 166.1L485.6 166.1L487.0 166.2L488.6 166.2L490.3 166.2L491.9 166.2L493.5 166.3L495.1 166.3L496.7 166.3L498.3 166.4L499.8 166.4L501.4 166.4L502.9 166.5L504.5 166.5L506.0 166.5L507.5 166.6L509.0 166.6L510.5 166.6L512.0 166.7L513.4 166.7L514.9 166.7L516.4 166.8L517.8 166.8L519.3 166.8L520.7 166.9L522.2 166.9L523.6 166.9L525.0 167.0L526.5 167.0L527.9 167.0L529.3 167.0L530.7 167.1L532.2 167.1L533.6 167.1L535.0 167.2L536.6 167.2L538.1 167.2L539.7 167.2L541.2 167.3L542.8 167.3L544.3 167.3L545.8 167.3L547.3 167.4L548.8 167.4L550.3 167.4L551.7 167.4L553.2 167.5L554.7 167.5L556.2 167.5L557.6 167.5L559.1 167.6L560.6 167.6L562.0 167.6L563.5 167.6L565.0 167.7L566.4 167.7L567.9 167.7L569.4 167.7L570.9 167.8L572.4 167.8L573.9 167.8L575.5 167.9L577.0 167.9L578.5 167.9L579.9 168.0L581.4 168.0L582.9 168.0L584.4 168.1L585.9 168.1L587.4 168.1L588.9 168.2L590.4 168.2L591.9 168.2L593.4 168.3L594.9 168.3L596.5 168.3L598.0 168.4L599.5 168.4L601.0 168.4L602.5 168.5L604.1 168.5L605.6 168.6L607.1 168.6L608.6 168.6L610.1 168.7L611.6 168.7L613.1 168.8L614.6 168.8L616.1 168.9L617.6 168.9L619.1 169.0L620.5 169.1L622.0 169.1L623.5 169.2L625.1 169.2L626.7 169.3L628.2 169.4L629.8 169.5L631.4 169.5L633.0 169.6L634.6 169.7L636.2 169.8L637.8 169.8L639.3 169.9L640.9 170.0L642.5 170.1L644.1 170.2L645.6 170.3L647.2 170.3L648.7 170.4L650.2 170.5L651.7 170.6L653.2 170.7L654.6 170.8L656.1 170.9L657.5 171.0L658.9 171.1L660.3 171.2L661.6 171.3L662.9 171.4L664.2 171.5L665.6 171.7L667.5 171.8L669.2 172.0L670.8 172.1L672.4 172.3L673.9 172.4L675.4 172.6L676.8 172.8L678.2 172.9L679.6 173.1L681.0 173.3L682.3 173.5L683.7 173.7L685.0 173.9L686.4 174.1L687.9 174.4L689.4 174.7L690.9 175.0L692.5 175.3L693.9 175.6L695.3 175.9L696.7 176.2L698.2 176.5L699.7 176.8L701.2 177.2L702.8 177.5L704.3 177.9L705.9 178.3L707.5 178.6L709.0 179.0L710.6 179.4L712.1 179.8L713.7 180.2L715.2 180.7L716.6 181.1L718.1 181.5L719.5 182.0L720.8 182.4L722.2 182.9L723.4 183.3L724.6 183.8L726.1 184.4L727.7 185.1L729.2 185.8L730.7 186.5L732.0 187.2L733.2 187.9L734.5 188.7L735.6 189.5L736.8 190.3L737.9 191.1L739.0 192.0L740.1 193.0L741.3 194.0L742.5 195.1L743.8 196.3L744.7 197.2L745.7 198.2L746.6 199.2L747.6 200.3L748.6 201.4L749.6 202.5L750.6 203.6L751.5 204.8L752.5 206.0L753.5 207.3L754.5 208.5L755.5 209.7L756.4 211.0L757.3 212.3L758.3 213.5L759.2 214.8L760.0 216.1L760.9 217.3L761.7 218.5L762.5 219.8L763.3 221.1L764.1 222.4L764.9 223.6L765.6 224.9L766.4 226.2L767.1 227.5L767.7 228.8L768.4 230.0L769.0 231.3L769.7 232.7L770.3 234.0L770.9 235.3L771.6 236.7L772.2 238.1L772.8 239.5L773.5 240.9L774.1 242.4L774.8 243.9L775.4 245.3L775.9 246.6L776.5 247.9L777.0 249.2L777.6 250.6L778.2 251.9L778.8 253.3L779.3 254.8L779.9 256.2L780.5 257.6L781.0 259.1L781.6 260.5L782.2 262.0L782.7 263.4L783.3 264.9L783.8 266.4L784.4 267.9L784.9 269.3L785.4 270.8L786.0 272.2L786.5 273.7L787.0 275.1L787.5 276.5L788.0 278.0L788.5 279.4L789.0 280.9L789.5 282.3L790.0 283.8L790.5 285.2L791.0 286.7L791.5 288.1L791.9 289.6L792.4 291.1L792.9 292.5L793.3 294.0L793.8 295.4L794.2 296.8L794.6 298.3L795.1 299.7L795.5 301.1L795.9 302.6L796.3 304.0L796.7 305.4L797.0 306.8L797.4 308.2L797.8 309.7L798.1 311.2L798.5 312.7L798.8 314.1L799.1 315.6L799.4 317.0L799.7 318.4L800.0 319.8L800.2 321.3L800.5 322.7L800.7 324.1L801.0 325.5L801.2 327.0L801.4 328.4L801.7 329.9L801.9 331.4L802.2 332.9L802.4 334.5L802.7 336.1L802.9 337.7L803.1 339.2L803.4 340.6L803.6 342.0L803.8 343.4L804.0 344.8L804.2 346.3L804.4 347.7L804.6 349.2L804.8 350.7L805.0 352.2L805.2 353.8L805.4 355.3L805.6 356.8L805.8 358.4L806.0 359.9L806.2 361.5L806.4 363.0L806.6 364.6L806.8 366.1L807.0 367.7L807.2 369.2L807.4 370.8L807.6 372.3L807.8 373.8L808.0 375.3L808.2 376.8L808.4 378.3L808.7 379.9L808.9 381.4L809.1 383.0L809.3 384.5L809.6 386.1L809.8 387.7L810.0 389.2L810.3 390.8L810.5 392.3L810.7 393.9L811.0 395.4L811.2 397.0L811.4 398.5L811.7 400.0L811.9 401.5L812.1 403.0L812.3 404.5L812.5 405.9L812.8 407.3L813.0 408.7L813.2 410.1L813.4 411.5L813.6 412.9L813.8 414.7L814.1 416.3L814.3 418.0L814.6 419.5L814.8 421.1L815.0 422.6L815.2 424.1L815.4 425.6L815.7 427.1L815.9 428.5L816.1 429.9L816.3 431.4L816.5 432.8L816.7 434.2L816.9 435.6L817.1 437.1L817.3 438.5L817.5 440.0L817.7 441.5L817.9 443.0L818.1 444.5L818.3 446.0L818.5 447.5L818.7 448.9L818.9 450.4L819.1 451.8L819.3 453.3L819.5 454.8L819.7 456.3L819.9 457.7L820.1 459.3L820.3 460.8L820.5 462.4L820.7 463.9L820.9 465.6L821.1 467.1L821.2 468.5L821.4 469.9L821.5 471.3L821.7 472.7L821.9 474.1L822.0 475.6L822.2 477.0L822.3 478.5L822.5 479.9L822.7 481.4L822.8 482.9L823.0 484.4L823.2 485.9L823.3 487.5L823.5 489.0L823.6 490.6L823.8 492.2L824.0 493.8L824.2 495.4L824.3 497.1L824.5 498.8L824.6 500.1L824.8 501.5L824.9 503.0L825.1 504.4L825.2 505.9L825.4 507.4L825.5 508.9L825.7 510.4L825.8 511.9L826.0 513.4L826.2 515.0L826.3 516.5L826.5 518.1L826.6 519.7L826.8 521.2L826.9 522.8L827.1 524.3L827.3 525.9L827.4 527.4L827.6 528.9L827.7 530.5L827.9 532.0L828.0 533.5L828.2 534.9L828.3 536.4L828.5 537.8L828.6 539.3L828.8 540.9L828.9 542.5L829.1 544.0L829.2 545.5L829.4 547.0L829.6 548.5L829.7 550.0L829.9 551.4L830.0 552.9L830.2 554.3L830.3 555.8L830.5 557.2L830.6 558.7L830.8 560.2L830.9 561.6L831.0 563.1L831.2 564.6L831.3 566.1L831.5 567.6L831.6 569.2L831.8 570.7L831.9 572.3L832.1 573.8L832.2 575.2L832.3 576.7L832.5 578.1L832.6 579.6L832.7 581.1L832.9 582.6L833.0 584.1L833.1 585.6L833.2 587.1L833.4 588.6L833.5 590.2L833.6 591.7L833.8 593.3L833.9 594.8L834.0 596.3L834.1 597.9L834.3 599.4L834.4 600.9L834.5 602.4L834.7 604.0L834.8 605.5L835.0 607.0L835.1 608.5L835.3 609.9L835.4 611.4L835.6 612.9L835.7 614.4L835.9 615.9L836.1 617.4L836.2 618.9L836.4 620.4L836.6 621.9L836.7 623.3L836.9 624.8L837.1 626.2L837.3 627.7L837.4 629.1L837.6 630.6L837.8 632.0L838.0 633.5L838.2 634.9L838.4 636.4L838.6 637.9L838.8 639.4L839.0 640.9L839.2 642.4L839.4 643.9L839.6 645.5L839.8 647.1L840.0 648.7L840.2 650.1L840.4 651.5L840.6 653.0L840.8 654.5L841.0 656.0L841.2 657.5L841.4 659.1L841.6 660.6L841.8 662.2L842.0 663.8L842.2 665.4L842.4 667.0L842.6 668.6L842.9 670.2L843.1 671.7L843.3 673.3L843.5 674.9L843.7 676.5L844.0 678.0L844.2 679.5L844.4 681.0L844.6 682.5L844.8 683.9L845.0 685.3L845.2 686.7L845.5 688.0L845.7 689.3L845.9 690.6L846.1 692.0L846.4 693.9L846.8 695.7L847.1 697.5L847.4 699.2L847.7 700.8L848.0 702.4L848.4 703.9L848.7 705.4L849.0 706.8L849.3 708.2L849.6 709.5L849.9 710.8L850.2 712.1L850.6 713.4L850.9 714.6L851.2 715.8L851.5 717.0L852.0 718.9L852.5 720.7L853.1 722.4L853.7 724.1L854.2 725.8L854.8 727.3L855.3 728.7L855.8 730.0L856.2 731.2L856.6 732.2L856.9 733.1L857.1 733.1L857.3 732.2L857.6 731.1L858.0 729.9L858.4 728.5L858.8 727.0L859.2 725.3L859.7 723.6L860.3 721.7L860.8 719.7L861.2 718.2L861.6 717.0L861.9 715.7L862.3 714.3L862.7 712.9L863.1 711.5L863.6 709.9L864.0 708.4L864.4 706.9L864.9 705.3L865.3 703.7L865.7 702.1L866.2 700.6L866.6 699.1L867.0 697.6L867.3 696.1L867.7 694.7L868.0 693.3L868.4 691.7L868.7 690.1L869.0 688.6L869.3 687.2L869.5 685.7L869.8 684.3L870.0 682.9L870.2 681.5L870.5 680.1L870.7 678.6L871.0 677.1L871.3 675.6L871.6 674.0L872.0 672.3L872.3 671.0L872.6 669.6L872.9 668.2L873.2 666.8L873.6 665.4L873.9 664.0L874.2 662.5L874.6 661.1L874.9 659.6L875.3 658.1L875.7 656.6L876.1 655.0L876.5 653.5L876.9 652.0L877.3 650.4L877.8 648.9L878.3 647.4L878.7 645.8L879.2 644.4L879.7 643.0L880.1 641.6L880.6 640.2L881.1 638.7L881.6 637.2L882.1 635.7L882.7 634.3L883.2 632.8L883.8 631.3L884.3 629.8L884.9 628.3L885.4 626.9L886.0 625.4L886.6 624.0L887.2 622.6L887.8 621.2L888.4 619.9L889.0 618.6L889.6 617.4L890.2 616.2L891.0 614.7L891.9 613.1L892.8 611.6L893.7 610.2L894.7 608.7L895.6 607.3L896.6 606.0L897.5 604.7L898.5 603.4L899.4 602.2L900.3 601.1L901.2 600.1L902.0 599.1L902.8 598.3L903.5 597.5L904.6 596.3L906.2 595.0L907.3 594.7L908.6 595.2L910.3 595.6L911.5 595.9L912.7 596.3L914.1 596.7L915.5 597.2L917.1 597.7L918.6 598.3L920.1 599.0L921.6 599.8L923.0 600.7L924.3 601.6L925.4 602.4L926.4 603.4L927.4 604.4L928.5 605.4L929.4 606.5L930.4 607.7L931.4 608.9L932.3 610.1L933.3 611.4L934.2 612.7L935.1 614.0L936.0 615.3L936.8 616.5L937.5 617.7L938.3 618.9L939.0 620.1L939.7 621.4L940.4 622.7L941.1 624.0L941.8 625.4L942.5 626.7L943.2 628.1L943.9 629.5L944.6 630.9L945.3 632.4L946.0 633.8L946.6 635.1L947.2 636.4L947.9 637.7L948.5 639.0L949.1 640.4L949.8 641.7L950.4 643.1L951.0 644.5" stroke-dasharray="35 23.8 5 23.8" stroke-dashoffset="0.0"/>
<path transform="scale(1 1.01250)" d="M951.0 644.5L951.6 645.9L952.2 647.3L952.9 648.7L953.5 650.1L954.1 651.6L954.8 653.1L955.4 654.6L956.0 656.0L956.5 657.4L957.1 658.7L957.6 660.0L958.2 661.3L958.7 662.6L959.3 663.9L959.8 665.3L960.4 666.6L960.9 668.0L961.5 669.4L962.0 670.8L962.5 672.2L963.1 673.7L963.6 675.2L964.2 676.7L964.7 678.2L965.3 679.8L965.8 681.4L966.3 682.8L966.7 684.2L967.1 685.5L967.6 687.0L968.0 688.4L968.4 689.9L968.9 691.4L969.3 692.9L969.8 694.5L970.2 696.0L970.6 697.6L971.1 699.2L971.5 700.7L972.0 702.3L972.4 703.8L972.8 705.4L973.2 706.9L973.6 708.4L974.1 709.8L974.5 711.2L974.9 712.6L975.2 714.0L975.6 715.3L976.0 716.5L976.5 718.3L977.0 719.9L977.5 721.5L978.0 723.1L978.4 724.6L978.8 726.0L979.3 727.4L979.7 728.8L980.1 730.2L980.5 731.5L981.0 732.8L981.4 734.2L981.8 735.5L982.3 736.8L982.8 738.2L983.3 739.5L983.9 741.0L984.4 742.4L985.0 743.8L985.6 745.3L986.2 746.8L986.8 748.2L987.4 749.7L988.1 751.1L988.7 752.5L989.3 753.9L990.0 755.3L990.6 756.7L991.3 758.0L992.0 759.3L992.6 760.6L993.3 761.8L994.1 763.2L994.9 764.7L995.8 766.2L996.8 767.6L997.7 769.1L998.6 770.5L999.6 771.8L1000.5 773.1L1001.4 774.3L1002.3 775.4L1003.1 776.4L1003.8 777.3L1004.5 778.0L1006.2 779.6L1007.6 780.2L1008.9 779.8L1010.3 779.1L1011.3 778.6L1012.2 778.0L1013.2 777.2L1014.3 776.2L1015.5 774.7L1016.8 772.8L1017.6 771.5L1018.2 770.5L1018.8 769.4L1019.4 768.2L1020.1 766.9L1020.7 765.6L1021.4 764.2L1022.1 762.8L1022.8 761.4L1023.5 759.9L1024.2 758.4L1024.9 756.8L1025.6 755.3L1026.3 753.8L1027.0 752.4L1027.7 750.9L1028.4 749.5L1029.0 748.1L1029.7 746.7L1030.3 745.3L1031.0 743.9L1031.7 742.5L1032.4 741.0L1033.0 739.6L1033.7 738.2L1034.3 736.8L1035.0 735.4L1035.6 734.0L1036.3 732.6L1036.9 731.3L1037.5 729.9L1038.2 728.6L1038.8 727.3L1039.4 726.0L1040.0 724.7L1040.7 723.1L1041.4 721.6L1042.1 720.1L1042.7 718.7L1043.4 717.3L1044.0 715.8L1044.7 714.5L1045.3 713.1L1045.9 711.8L1046.6 710.5L1047.2 709.2L1047.8 707.9L1048.5 706.7L1049.3 705.2L1050.0 703.9L1050.8 702.6L1051.5 701.3L1052.3 700.1L1053.0 698.9L1053.8 697.7L1054.6 696.4L1055.4 695.1L1056.3 693.8L1057.2 692.3L1058.0 691.2L1058.7 690.0L1059.4 688.8L1060.2 687.6L1060.9 686.4L1061.7 685.1L1062.5 683.8L1063.3 682.5L1064.1 681.2L1065.0 680.0L1065.9 678.7L1066.9 677.4L1067.9 676.1L1069.0 674.9L1070.1 673.7L1071.1 672.7L1072.1 671.7L1073.2 670.6L1074.3 669.6L1075.5 668.5L1076.7 667.4L1078.0 666.3L1079.2 665.2L1080.5 664.2L1081.8 663.2L1083.0 662.2L1084.3 661.2L1085.5 660.3L1086.8 659.4L1088.0 658.6L1089.1 657.9L1090.3 657.2L1091.5 656.5L1093.2 655.7L1094.7 655.0L1096.2 654.4L1097.7 653.9L1099.1 653.5L1100.5 653.2L1102.0 653.0L1103.4 652.9L1104.9 652.8L1106.4 652.8L1108.0 652.8L1109.4 652.9L1110.8 653.0L1112.2 653.3L1113.7 653.5L1115.1 653.9L1116.6 654.3L1118.0 654.7L1119.5 655.2L1121.0 655.7L1122.5 656.2L1124.0 656.8L1125.5 657.3L1127.0 657.9L1128.5 658.5L1129.8 659.1L1131.2 659.7L1132.6 660.3L1134.0 661.0L1135.4 661.7L1136.8 662.5L1138.2 663.2L1139.7 664.0L1141.1 664.7L1142.5 665.5L1143.8 666.2L1145.2 666.9L1146.5 667.6L1147.7 668.2L1149.0 668.8L1150.3 669.4L1152.0 670.1L1153.6 670.8L1155.2 671.4L1156.7 672.0L1158.2 672.5L1159.6 673.0L1160.9 673.4L1162.2 673.8L1163.5 674.2L1164.6 674.5L1166.3 674.9L1167.9 675.3L1169.2 675.5L1170.5 675.5L1171.8 675.4L1173.5 675.1L1174.7 674.8L1176.0 674.4L1177.3 674.0L1178.6 673.5L1180.1 673.0L1181.5 672.3L1183.0 671.5L1184.5 670.7L1186.0 669.6L1187.0 668.9L1188.1 668.1L1189.1 667.2L1190.2 666.3L1191.3 665.3L1192.4 664.3L1193.5 663.2L1194.7 662.1L1195.8 661.0L1196.9 659.8L1198.0 658.6L1199.2 657.4L1200.3 656.2L1201.3 655.0L1202.2 653.9L1203.1 652.8L1204.0 651.7L1204.9 650.5L1205.7 649.3L1206.6 648.1L1207.5 646.9L1208.4 645.6L1209.3 644.3L1210.2 643.1L1210.8 642.2" stroke-dasharray="35 23.8 5 23.8" stroke-dashoffset="46.9"/>
<path transform="scale(1 1.01250)" d="M1210.8 642.2L1211.7 640.9L1212.6 639.7L1213.4 638.4L1214.3 637.1L1215.2 635.8L1216.0 634.6L1216.8 633.3L1217.6 632.1L1218.4 630.9L1219.2 629.7L1219.9 628.6L1220.6 627.4L1221.4 626.2L1222.1 625.0L1222.9 623.8L1223.6 622.6L1224.4 621.3L1225.2 620.0L1226.0 618.7L1226.9 617.3L1227.8 615.9L1228.7 614.4L1229.8 612.8L1230.5 611.8L1231.2 610.6L1232.0 609.4L1232.8 608.2L1233.6 607.0L1234.4 605.7L1235.3 604.3L1236.1 603.0L1237.0 601.6L1237.9 600.3L1238.8 598.9L1239.7 597.5L1240.6 596.1L1241.5 594.7L1242.4 593.4L1243.3 592.0L1244.2 590.7L1245.1 589.3L1246.0 588.1L1246.8 586.8L1247.7 585.6L1248.5 584.4L1249.3 583.2L1250.0 582.1L1250.8 581.1L1251.7 579.7L1252.8 578.2L1253.9 576.8L1254.8 575.4L1255.8 574.2L1256.7 573.0L1257.6 571.8L1258.5 570.7L1259.3 569.6L1260.2 568.6L1261.0 567.5L1261.9 566.5L1262.8 565.4L1263.6 564.4L1264.6 563.3L1265.5 562.2L1266.5 561.0L1267.5 559.9L1268.6 558.7L1269.7 557.5L1270.7 556.3L1271.8 555.2L1272.9 554.0L1273.9 552.9L1275.0 551.8L1276.1 550.7L1277.1 549.6L1278.1 548.6L1279.1 547.6L1280.1 546.6L1281.0 545.7L1282.3 544.4L1283.6 543.2L1284.8 542.1L1286.0 541.1L1287.1 540.1L1288.2 539.1L1289.3 538.2L1290.4 537.3L1291.5 536.4L1292.6 535.6L1293.9 534.6L1295.2 533.6L1296.5 532.7L1297.8 531.8L1299.1 531.0L1300.4 530.2L1301.7 529.5L1302.9 528.8L1304.3 528.2L1305.8 527.6L1307.3 527.2L1308.7 526.8L1310.2 526.5L1311.7 526.2L1313.1 526.0L1314.6 525.7L1316.2 525.5L1317.7 525.2L1319.3 525.0L1320.8 524.9L1322.4 524.8L1323.9 524.7L1325.5 524.6L1327.0 524.6L1328.5 524.7L1330.0 524.7L1331.6 524.8L1333.1 524.9L1334.6 525.1L1336.0 525.2L1337.6 525.4L1339.2 525.6L1340.7 525.8L1342.2 526.0L1343.7 526.4L1345.3 526.8L1346.7 527.2L1348.1 527.7L1349.5 528.3L1350.9 528.9L1352.3 529.5L1353.7 530.2L1355.1 530.9L1356.4 531.6L1357.7 532.3L1359.0 532.9L1360.2 533.6L1361.5 534.3L1362.8 535.1L1364.2 536.2L1365.7 537.4L1366.6 538.2L1367.6 539.1L1368.6 540.1L1369.7 541.1L1370.8 542.1L1371.9 543.2L1373.0 544.4L1374.1 545.5L1375.2 546.7L1376.3 548.0L1377.4 549.2L1378.5 550.4L1379.5 551.6L1380.5 552.7L1381.4 553.8L1382.3 554.9L1383.3 556.1L1384.2 557.2L1385.2 558.4L1386.1 559.6L1387.0 560.8L1387.9 562.0L1388.9 563.3L1389.8 564.6L1390.6 565.9L1391.5 567.3L1392.3 568.6L1393.1 569.8L1393.8 571.0L1394.5 572.3L1395.2 573.6L1395.9 574.9L1396.6 576.2L1397.3 577.6L1398.0 578.9L1398.7 580.3L1399.4 581.7L1400.0 583.1L1400.7 584.5L1401.3 585.9L1402.0 587.3L1402.6 588.7L1403.2 590.1L1403.8 591.4L1404.4 592.8L1405.0 594.1L1405.5 595.4L1406.1 596.7L1406.6 598.0L1407.1 599.3L1407.6 600.6L1408.2 601.9L1408.7 603.3L1409.2 604.6L1409.7 606.1L1410.2 607.5L1410.7 609.1L1411.2 610.7L1411.7 612.3L1412.2 614.1L1412.6 615.3L1413.0 616.6L1413.3 617.9L1413.7 619.3L1414.1 620.7L1414.5 622.1L1414.8 623.6L1415.2 625.1L1415.6 626.6L1415.9 628.1L1416.3 629.7L1416.7 631.2L1417.0 632.8L1417.4 634.3L1417.8 635.9L1418.1 637.5L1418.5 639.0L1418.8 640.6L1419.2 642.1L1419.5 643.6L1419.9 645.1L1420.2 646.6L1420.6 648.0L1420.9 649.4L1421.2 650.9L1421.6 652.5L1422.0 654.0L1422.3 655.5L1422.6 657.1L1423.0 658.5L1423.3 660.0L1423.6 661.5L1423.9 663.0L1424.3 664.4L1424.6 665.9L1424.9 667.3L1425.2 668.8L1425.5 670.2L1425.8 671.7L1426.1 673.1L1426.5 674.6L1426.8 676.0L1427.1 677.5L1427.4 679.0L1427.8 680.5L1428.1 682.0L1428.4 683.4L1428.8 684.8L1429.1 686.2L1429.5 687.6L1429.8 689.0L1430.2 690.4L1430.5 691.7L1430.8 693.1L1431.2 694.5L1431.5 695.9L1431.9 697.3L1432.3 698.7L1432.6 700.1L1433.0 701.6L1433.3 703.1L1433.7 704.6L1434.0 706.2L1434.4 707.8L1434.7 709.4L1435.1 711.1L1435.5 712.9L1435.8 714.5L1436.0 715.8L1436.3 717.1L1436.6 718.5L1436.8 720.0L1437.1 721.4L1437.4 723.0L1437.7 724.5L1437.9 726.0L1438.2 727.6L1438.5 729.2L1438.8 730.9L1439.1 732.5L1439.4 734.1L1439.6 735.8L1439.9 737.4L1440.2 739.0L1440.5 740.7L1440.7 742.3L1441.0 743.9L1441.3 745.5L1441.5 747.1L1441.8 748.6L1442.0 750.2L1442.3 751.6L1442.5 753.1L1442.7 754.5L1443.0 755.9L1443.2 757.2L1443.4 758.5L1443.6 759.7L1443.7 760.9L1444.0 762.7L1444.3 764.7L1444.5 766.4L1444.8 768.0L1444.9 769.5L1445.1 770.9L1445.2 772.1L1445.3 773.4L1445.5 774.5L1445.6 775.7L1445.7 777.0L1445.8 778.3L1445.9 779.6L1446.1 781.1L1446.2 782.7L1446.4 784.5L1446.6 786.0L1446.7 787.3L1446.9 788.6L1447.1 790.0L1447.2 791.5L1447.4 792.9L1447.6 794.5L1447.8 796.0L1447.9 797.6L1448.1 799.2L1448.3 800.8L1448.5 802.5L1448.7 804.1L1448.9 805.7L1449.1 807.4L1449.3 809.0L1449.5 810.6L1449.6 812.2L1449.8 813.8L1450.0 815.3L1450.2 816.8L1450.3 818.3L1450.5 819.7L1450.6 821.1L1450.7 822.4L1450.9 823.7L1451.0 825.4L1451.2 827.3L1451.3 829.0L1451.4 830.7L1451.5 832.3L1451.6 833.9L1451.7 835.3L1451.8 836.8L1451.8 838.1L1451.9 839.5L1452.0 840.9L1452.0 842.3L1452.1 843.6L1452.2 845.1L1452.3 846.5L1452.4 848.0L1452.5 849.5L1452.6 851.0L1452.8 852.5L1452.9 854.0L1453.0 855.5L1453.1 857.0L1453.3 858.4L1453.4 859.9L1453.5 861.4L1453.7 862.9L1453.8 864.5L1454.0 866.0L1454.1 867.6L1454.2 869.2L1454.4 870.8L1454.5 872.4L1454.7 873.8L1454.8 875.2L1454.9 876.6L1455.1 878.1L1455.2 879.5L1455.4 881.0L1455.5 882.5L1455.7 884.0L1455.8 885.5L1456.0 887.0L1456.1 888.6L1456.3 890.1L1456.4 891.7L1456.6 893.3L1456.7 894.8L1456.9 896.4L1457.0 898.1L1457.2 899.7L1457.3 901.2L1457.4 902.6L1457.5 904.1L1457.7 905.7L1457.8 907.2L1457.9 908.8L1458.1 910.4L1458.2 912.1L1458.3 913.7L1458.4 915.3L1458.6 917.0L1458.7 918.6L1458.8 920.2L1459.0 921.8L1459.1 923.3L1459.2 924.9L1459.3 926.3L1459.5 927.8L1459.6 929.2L1459.7 930.5L1459.8 931.8L1460.0 933.0L1460.2 934.8L1460.4 936.9L1460.7 938.9L1460.9 940.8L1461.2 942.5L1461.5 944.0L1461.7 945.5L1461.9 946.8L1462.1 948.0L1462.3 949.0L1462.5 949.9L1462.6 949.9L1462.9 949.1L1463.2 948.3L1463.7 947.2L1464.1 945.7L1464.6 943.8L1465.1 941.3L1465.4 939.6L1465.6 938.5L1465.7 937.2L1465.9 936.0L1466.1 934.6L1466.2 933.1L1466.4 931.6L1466.6 930.0L1466.8 928.4L1467.0 926.8L1467.1 925.1L1467.3 923.4L1467.5 921.8L1467.7 920.1L1467.9 918.4L1468.0 916.7L1468.2 915.1L1468.4 913.5L1468.5 912.0L1468.7 910.5L1468.8 909.1L1469.0 907.6L1469.1 905.9L1469.3 904.2L1469.4 902.6L1469.6 901.1L1469.7 899.5L1469.9 898.0L1470.0 896.6L1470.1 895.1L1470.2 893.7L1470.3 892.2L1470.5 890.8L1470.6 889.3L1470.7 887.9L1470.8 886.4L1470.9 884.9L1471.0 883.4L1471.1 881.9L1471.2 880.5L1471.3 879.0L1471.3 877.6L1471.4 876.2L1471.5 874.9L1471.5 873.5L1471.6 872.1L1471.6 870.6L1471.7 869.2L1471.8 867.7L1471.8 866.2L1471.9 864.6L1472.0 863.0L1472.1 861.3L1472.3 859.6L1472.4 857.8L1472.5 856.5L1472.6 855.1L1472.8 853.7L1472.9 852.3L1473.0 850.8L1473.2 849.2L1473.3 847.7L1473.5 846.1L1473.7 844.5L1473.8 842.9L1474.0 841.3L1474.2 839.6L1474.3 838.0L1474.5 836.4L1474.7 834.8L1474.8 833.2L1475.0 831.6L1475.2 830.0L1475.3 828.5L1475.5 827.0L1475.6 825.5L1475.7 824.1L1475.8 822.7L1475.9 821.4L1476.0 819.9L1476.2 818.1L1476.3 816.4L1476.3 814.7L1476.4 813.1L1476.5 811.6L1476.5 810.1L1476.5 808.7L1476.6 807.3L1476.6 805.9L1476.6 804.5L1476.6 803.2L1476.7 801.8L1476.7 800.4L1476.8 799.0L1476.8 797.5L1476.9 796.0L1477.0 794.6L1477.1 793.1L1477.2 791.7L1477.2 790.4L1477.3 789.0L1477.4 787.6L1477.5 786.2L1477.6 784.8L1477.7 783.4L1477.8 782.0L1478.0 780.5L1478.1 779.0L1478.2 777.4L1478.3 775.7L1478.5 774.0L1478.6 772.2L1478.7 770.5L1478.8 769.2L1478.9 767.9L1479.1 766.5L1479.2 765.0L1479.3 763.6L1479.4 762.0L1479.6 760.5L1479.7 758.9L1479.8 757.3L1480.0 755.7L1480.1 754.0L1480.2 752.4L1480.4 750.8L1480.5 749.1L1480.6 747.5L1480.8 745.9L1480.9 744.3L1481.0 742.7L1481.2 741.2L1481.3 739.7L1481.4 738.2L1481.5 736.8L1481.6 735.4L1481.7 734.1L1481.8 732.8L1481.9 731.0L1482.0 729.3L1482.1 727.7L1482.2 726.3L1482.3 724.9L1482.3 723.6L1482.4 722.3L1482.4 721.0L1482.5 719.8L1482.5 718.5L1482.6 717.1L1482.7 715.7L1482.8 714.1L1482.9 712.4L1483.0 710.6L1483.2 708.5L1483.3 707.4L1483.4 706.1L1483.5 704.9L1483.6 703.6L1483.8 702.2L1483.9 700.8L1484.0 699.4L1484.2 698.0L1484.3 696.5L1484.4 695.0L1484.6 693.5L1484.7 692.0L1484.9 690.4L1485.1 688.9L1485.2 687.3L1485.4 685.7L1485.5 684.1L1485.7 682.5L1485.9 680.9L1486.0 679.3L1486.2 677.7L1486.3 676.1L1486.5 674.5L1486.7 672.9L1486.8 671.3L1487.0 669.8L1487.1 668.2L1487.3 666.7L1487.4 665.2L1487.6 663.7L1487.8 662.2L1487.9 660.7L1488.1 659.2L1488.2 657.7L1488.4 656.2L1488.5 654.7L1488.7 653.2L1488.8 651.7L1489.0 650.2L1489.1 648.7L1489.3 647.2L1489.4 645.7L1489.6 644.2L1489.7 642.7L1489.9 641.2L1490.0 639.7L1490.2 638.2L1490.4 636.7L1490.5 635.2L1490.7 633.7L1490.8 632.2L1491.0 630.7L1491.1 629.2L1491.3 627.7L1491.5 626.2L1491.6 624.7L1491.8 623.2L1491.9 621.7L1492.1 620.2L1492.3 618.7L1492.5 617.1L1492.6 615.5L1492.8 613.9L1493.0 612.3L1493.2 610.7L1493.4 609.1L1493.6 607.4L1493.7 605.8L1493.9 604.1L1494.1 602.5L1494.3 600.9L1494.5 599.3L1494.7 597.7L1494.9 596.1L1495.1 594.5L1495.2 593.0L1495.4 591.4L1495.6 589.9L1495.8 588.5L1495.9 587.0L1496.1 585.7L1496.3 584.3L1496.4 583.0L1496.6 581.7L1496.7 580.5L1496.9 579.4L1497.0 578.3L1497.3 576.0L1497.5 574.0L1497.8 572.2L1498.0 570.7L1498.2 569.3L1498.3 568.1L1498.5 566.9L1498.7 565.8L1498.9 564.6L1499.0 563.3L1499.2 561.9L1499.4 560.3L1499.6 558.9L1499.8 557.5L1499.9 556.1L1500.1 554.6L1500.3 553.1L1500.5 551.6L1500.6 550.1L1500.8 548.5L1501.0 546.9L1501.2 545.4L1501.4 543.8L1501.5 542.2L1501.7 540.6L1501.9 539.1L1502.1 537.6L1502.3 536.0L1502.5 534.6L1502.7 533.1L1502.9 531.6L1503.1 530.2L1503.3 528.8L1503.5 527.5L1503.7 526.1L1503.9 524.8L1504.1 523.4L1504.3 522.0L1504.6 520.6L1504.8 519.1L1505.0 517.6L1505.3 516.0L1505.5 514.2L1505.8 512.4L1506.1 510.7L1506.2 509.5L1506.4 508.1L1506.6 506.8L1506.8 505.4L1507.0 503.9L1507.2 502.4L1507.5 500.9L1507.7 499.3L1507.9 497.7L1508.1 496.1L1508.4 494.5L1508.6 492.9L1508.8 491.2L1509.0 489.6L1509.3 488.0L1509.5 486.4L1509.7 484.8L1510.0 483.2L1510.2 481.7L1510.4 480.2L1510.6 478.7L1510.8 477.3L1511.0 475.9L1511.2 474.5L1511.4 473.3L1511.7 471.6L1512.0 469.8L1512.2 468.2L1512.5 466.6L1512.7 465.0L1513.0 463.6L1513.2 462.2L1513.4 460.8L1513.7 459.4L1513.9 458.1L1514.1 456.7L1514.4 455.4L1514.6 454.0L1514.9 452.6L1515.2 451.2L1515.4 449.7L1515.8 448.1L1516.0 446.8L1516.3 445.4L1516.6 444.0L1516.9 442.6L1517.2 441.2L1517.5 439.7L1517.8 438.3L1518.1 436.8L1518.5 435.4L1518.8 433.9L1519.1 432.4L1519.4 431.0L1519.8 429.5L1520.1 428.0L1520.5 426.4L1520.8 424.9L1521.2 423.4L1521.5 421.8L1521.9 420.3L1522.2 418.8L1522.5 417.4L1522.9 415.9L1523.2 414.4L1523.6 413.0L1523.9 411.4L1524.3 409.9L1524.6 408.4L1525.0 406.8L1525.4 405.3L1525.7 403.7L1526.1 402.2L1526.5 400.6L1526.8 399.1L1527.2 397.6L1527.5 396.1L1527.9 394.6L1528.2 393.2L1528.6 391.7L1528.9 390.3L1529.2 389.0L1529.5 387.7L1529.9 386.0L1530.3 384.3L1530.6 382.7L1531.0 381.2L1531.3 379.7L1531.6 378.2L1531.9 376.7L1532.3 375.2L1532.6 373.8L1532.9 372.4L1533.2 371.0L1533.5 369.6L1533.8 368.2L1534.1 366.8L1534.4 365.3L1534.8 363.9L1535.1 362.5L1535.5 361.0L1535.8 359.6L1536.1 358.2L1536.4 356.9L1536.7 355.6L1537.0 354.2L1537.3 352.9L1537.6 351.6L1538.0 350.2L1538.3 348.8L1538.7 347.3L1539.1 345.8L1539.5 344.2L1539.9 342.5L1540.4 340.7L1540.9 339.1L1541.2 337.9L1541.6 336.6L1542.0 335.3L1542.4 333.9L1542.8 332.5L1543.2 331.0L1543.6 329.5L1544.1 328.0L1544.5 326.4L1545.0 324.9L1545.5 323.3L1545.9 321.7L1546.4 320.2L1546.9 318.6L1547.4 317.0L1547.9 315.5L1548.3 313.9L1548.8 312.4L1549.3 310.9L1549.7 309.5L1550.2 308.1L1550.6 306.7L1551.1 305.4L1551.5 304.1L1551.9 302.9L1552.4 301.3L1553.0 299.5L1553.5 297.9L1554.1 296.4L1554.6 294.9L1555.1 293.5L1555.5 292.5" stroke-dasharray="35 23.8 5 23.8" stroke-dashoffset="47.0"/>
<path transform="scale(1 1.01250)" d="M1555.5 292.5L1556.0 291.2L1556.5 289.9L1557.0 288.6L1557.5 287.3L1558.0 286.1L1558.5 284.8L1559.0 283.5L1559.6 282.2L1560.2 280.9L1560.8 279.5L1561.3 278.1L1561.9 276.8L1562.5 275.5L1563.1 274.2L1563.7 272.9L1564.3 271.5L1564.9 270.2L1565.5 268.9L1566.2 267.6L1566.8 266.3L1567.5 264.9L1568.2 263.6L1569.0 262.2L1569.7 260.7L1570.6 259.3L1571.4 257.8L1572.2 256.4L1572.9 255.3L1573.6 254.1L1574.4 252.8L1575.1 251.6L1575.9 250.3L1576.7 249.0L1577.6 247.6L1578.4 246.3L1579.2 245.0L1580.1 243.6L1581.0 242.3L1581.9 240.9L1582.7 239.6L1583.6 238.3L1584.5 237.0L1585.4 235.7L1586.3 234.5L1587.1 233.2L1588.0 232.1L1588.8 230.9L1589.7 229.8L1590.5 228.7L1591.5 227.5L1592.6 226.1L1593.6 224.8L1594.7 223.6L1595.7 222.4L1596.8 221.3L1597.8 220.2L1598.8 219.1L1599.9 218.1L1600.9 217.1L1602.0 216.1L1603.0 215.1L1604.1 214.1L1605.2 213.2L1606.3 212.2L1607.5 211.3L1608.6 210.3L1609.8 209.4L1611.0 208.4L1612.3 207.5L1613.5 206.6L1614.8 205.7L1616.1 204.9L1617.4 204.0L1618.7 203.1L1620.0 202.3L1621.3 201.5L1622.7 200.7L1624.0 200.0L1625.3 199.3L1626.6 198.6L1627.8 197.9L1629.1 197.2L1630.5 196.6L1631.9 195.9L1633.4 195.3L1634.9 194.7L1636.3 194.1L1637.7 193.6L1639.2 193.1L1640.6 192.7L1642.0 192.3L1643.4 191.8L1644.9 191.4L1646.3 191.0L1647.6 190.6L1649.0 190.3L1650.5 189.8L1652.0 189.4L1653.4 189.1L1654.8 188.7L1656.2 188.4L1657.6 188.1L1659.0 187.8L1660.5 187.5L1661.9 187.2L1663.4 186.9L1665.0 186.6L1666.6 186.3L1668.2 185.9L1669.6 185.7L1671.0 185.4L1672.4 185.1L1673.8 184.8L1675.3 184.5L1676.8 184.3L1678.4 184.0L1679.9 183.7L1681.5 183.4L1683.0 183.1L1684.6 182.9L1686.2 182.6L1687.7 182.3L1689.3 182.1L1690.8 181.8L1692.3 181.6L1693.8 181.4L1695.3 181.2L1696.7 181.0L1698.1 180.8L1699.5 180.6L1700.9 180.5L1702.2 180.3L1703.6 180.2L1705.0 180.0L1706.4 179.9L1707.9 179.7L1709.4 179.6L1711.0 179.5L1712.7 179.3L1714.4 179.2L1716.3 179.1L1717.8 179.0L1719.1 178.9L1720.5 178.8L1721.9 178.7L1723.3 178.6L1724.8 178.5L1726.3 178.4L1727.9 178.4L1729.5 178.3L1731.1 178.2L1732.7 178.1L1734.4 178.0L1736.0 177.9L1737.7 177.9L1739.3 177.8L1741.0 177.7L1742.6 177.6L1744.2 177.6L1745.8 177.5L1747.3 177.4L1748.8 177.4L1750.3 177.3L1751.8 177.2L1753.1 177.2L1754.5 177.1L1755.8 177.0L1757.6 177.0L1759.4 176.9L1761.1 176.8L1762.7 176.7L1764.3 176.7L1765.8 176.6L1767.3 176.6L1768.7 176.5L1770.1 176.5L1771.5 176.4L1772.9 176.4L1774.2 176.3L1775.6 176.3L1777.0 176.2L1778.4 176.2L1779.8 176.1L1781.3 176.0L1782.8 176.0L1784.2 175.9L1785.6 175.8L1787.0 175.7L1788.3 175.6L1789.6 175.5L1791.0 175.5L1792.4 175.4L1793.8 175.3L1795.3 175.2L1796.8 175.1L1798.4 175.0L1800.1 175.0L1801.9 174.9L1803.8 174.8L1805.3 174.8L1806.6 174.8L1807.9 174.7L1809.3 174.7L1810.8 174.6L1812.3 174.6L1813.8 174.6L1815.3 174.5L1816.9 174.5L1818.6 174.5L1820.2 174.4L1821.8 174.4L1823.5 174.4L1825.2 174.4L1826.8 174.3L1828.5 174.3L1830.1 174.3L1831.7 174.2L1833.3 174.2L1834.9 174.2L1836.4 174.2L1837.9 174.2L1839.3 174.1L1840.7 174.1L1842.0 174.1L1843.3 174.1L1844.5 174.1L1846.6 174.1L1848.7 174.0L1850.6 174.0L1852.5 174.0L1854.3 174.0L1856.1 174.0L1857.7 174.1L1859.2 174.1L1860.6 174.1L1862.0 174.1L1863.2 174.1L1864.3 174.1L1865.3 174.1L1866.1 174.1L1866.4 174.1" stroke-dasharray="35 23.8 5 23.8" stroke-dashoffset="47.0"/>
<path d="M430.30 174.00C433.43 174.38 442.05 175.45 449.10 176.30C456.15 177.15 463.47 178.05 472.60 179.10C481.73 180.15 493.47 181.55 503.90 182.60C514.33 183.65 524.75 184.60 535.20 185.40C545.65 186.20 556.15 186.93 566.60 187.40C577.05 187.87 587.47 188.05 597.90 188.20C608.33 188.35 618.77 188.23 629.20 188.30C639.63 188.37 651.12 188.48 660.50 188.60C669.88 188.72 678.98 188.53 685.50 189.00C692.02 189.47 695.93 190.77 699.60 191.40C703.27 192.03 703.27 191.99 707.50 192.80C711.73 193.61 719.33 194.13 725.00 196.25C730.67 198.37 736.42 201.79 741.50 205.50C746.58 209.21 751.50 213.83 755.50 218.50C759.50 223.17 762.12 227.42 765.50 233.50C768.88 239.58 772.58 247.25 775.80 255.00C779.02 262.75 782.02 270.83 784.80 280.00C787.58 289.17 790.10 299.58 792.50 310.00C794.90 320.42 797.03 330.83 799.20 342.50C801.37 354.17 803.58 367.50 805.50 380.00C807.42 392.50 809.08 406.58 810.70 417.50C812.32 428.42 813.90 436.33 815.20 445.50C816.50 454.67 817.45 462.58 818.50 472.50C819.55 482.42 820.33 492.92 821.50 505.00C822.67 517.08 823.90 526.50 825.50 545.00C827.10 563.50 829.40 594.72 831.10 616.00C832.80 637.28 834.18 657.37 835.70 672.70C837.22 688.03 838.77 698.62 840.20 708.00C841.63 717.38 843.62 725.50 844.30 729.00C844.95 725.30 846.80 716.18 848.20 706.80C849.60 697.42 851.00 685.95 852.70 672.70C854.40 659.45 856.32 641.68 858.40 627.30C860.48 612.92 862.73 598.53 865.20 586.40C867.67 574.27 870.35 563.98 873.20 554.50C876.05 545.02 878.90 536.68 882.30 529.50C885.70 522.32 889.82 514.92 893.60 511.40C897.38 507.88 900.83 508.03 905.00 508.40C909.17 508.77 913.30 509.33 918.60 513.60C923.90 517.87 931.48 527.93 936.80 534.00C942.12 540.07 946.63 546.00 950.50 550.00C954.37 554.00 957.00 555.42 960.00 558.00C963.00 560.58 965.83 563.83 968.50 565.50C971.17 567.17 973.50 567.83 976.00 568.00C978.50 568.17 980.65 568.28 983.50 566.50C986.35 564.72 988.88 561.72 993.10 557.30C997.32 552.88 1003.57 546.00 1008.80 540.00C1014.03 534.00 1020.07 525.75 1024.50 521.30C1028.93 516.85 1031.65 515.75 1035.40 513.30C1039.15 510.85 1043.15 507.98 1047.00 506.60C1050.85 505.22 1054.08 504.85 1058.50 505.00C1062.92 505.15 1067.67 504.58 1073.50 507.50C1079.33 510.42 1086.83 515.83 1093.50 522.50C1100.17 529.17 1107.62 537.83 1113.50 547.50C1119.38 557.17 1123.68 567.92 1128.80 580.50C1133.92 593.08 1139.73 609.67 1144.20 623.00C1148.67 636.33 1152.22 648.00 1155.60 660.50C1158.98 673.00 1161.60 684.25 1164.50 698.00C1167.40 711.75 1170.38 728.42 1173.00 743.00C1175.62 757.58 1178.03 770.92 1180.20 785.50C1182.37 800.08 1184.20 815.92 1186.00 830.50C1187.80 845.08 1189.54 859.67 1191.00 873.00C1192.46 886.33 1193.50 895.00 1194.75 910.50C1196.00 926.00 1197.04 946.33 1198.50 966.00C1199.96 985.67 1201.83 1011.00 1203.50 1028.50C1205.17 1046.00 1207.37 1062.42 1208.50 1071.00C1209.63 1079.58 1208.92 1078.17 1210.30 1080.00C1211.68 1081.83 1215.22 1087.25 1216.80 1082.00C1218.38 1076.75 1218.84 1059.50 1219.75 1048.50C1220.66 1037.50 1221.21 1029.75 1222.25 1016.00C1223.29 1002.25 1224.96 981.50 1226.00 966.00C1227.04 950.50 1227.46 938.50 1228.50 923.00C1229.54 907.50 1230.79 889.67 1232.25 873.00C1233.71 856.33 1235.58 839.67 1237.25 823.00C1238.92 806.33 1240.38 789.67 1242.25 773.00C1244.12 756.33 1246.21 739.67 1248.50 723.00C1250.79 706.33 1253.50 688.83 1256.00 673.00C1258.50 657.17 1260.79 641.75 1263.50 628.00C1266.21 614.25 1268.92 602.58 1272.25 590.50C1275.58 578.42 1280.46 564.25 1283.50 555.50C1286.54 546.75 1288.08 543.75 1290.50 538.00C1292.92 532.25 1295.42 526.50 1298.00 521.00C1300.58 515.50 1303.33 509.92 1306.00 505.00C1308.67 500.08 1311.33 495.67 1314.00 491.50C1316.67 487.33 1319.25 483.50 1322.00 480.00C1324.75 476.50 1327.67 473.12 1330.50 470.50C1333.33 467.88 1336.25 465.77 1339.00 464.30C1341.75 462.83 1344.58 462.22 1347.00 461.70C1349.42 461.18 1351.17 461.10 1353.50 461.20C1355.83 461.30 1358.17 461.00 1361.00 462.30C1363.83 463.60 1367.58 466.13 1370.50 469.00C1373.42 471.87 1375.92 475.75 1378.50 479.50C1381.08 483.25 1383.67 487.33 1386.00 491.50C1388.33 495.67 1390.50 500.08 1392.50 504.50C1394.50 508.92 1396.27 513.37 1398.00 518.00C1399.73 522.63 1401.23 527.38 1402.90 532.30C1404.57 537.22 1406.23 540.72 1408.00 547.50C1409.77 554.28 1411.33 562.50 1413.50 573.00C1415.67 583.50 1418.75 598.00 1421.00 610.50C1423.25 623.00 1425.17 633.42 1427.00 648.00C1428.83 662.58 1430.54 681.33 1432.00 698.00C1433.46 714.67 1434.71 731.33 1435.75 748.00C1436.79 764.67 1437.42 781.33 1438.25 798.00C1439.08 814.67 1439.92 829.25 1440.75 848.00C1441.58 866.75 1442.62 890.83 1443.25 910.50C1443.88 930.17 1444.25 942.58 1444.50 966.00C1444.75 989.42 1444.50 1026.00 1444.75 1051.00C1445.00 1076.00 1445.58 1092.67 1446.00 1116.00C1446.42 1139.33 1446.83 1166.00 1447.25 1191.00C1447.67 1216.00 1448.08 1246.00 1448.50 1266.00C1448.92 1286.00 1449.54 1303.50 1449.75 1311.00C1449.96 1303.50 1450.58 1286.00 1451.00 1266.00C1451.42 1246.00 1451.83 1216.00 1452.25 1191.00C1452.67 1166.00 1452.96 1141.00 1453.50 1116.00C1454.04 1091.00 1454.88 1066.00 1455.50 1041.00C1456.12 1016.00 1456.71 989.83 1457.25 966.00C1457.79 942.17 1458.29 917.67 1458.75 898.00C1459.21 878.33 1459.46 864.67 1460.00 848.00C1460.54 831.33 1461.25 812.58 1462.00 798.00C1462.75 783.42 1463.25 777.17 1464.50 760.50C1465.75 743.83 1467.83 718.83 1469.50 698.00C1471.17 677.17 1472.83 654.25 1474.50 635.50C1476.17 616.75 1477.83 600.08 1479.50 585.50C1481.17 570.92 1482.00 562.25 1484.50 548.00C1487.00 533.75 1491.17 515.50 1494.50 500.00C1497.83 484.50 1501.17 468.33 1504.50 455.00C1507.83 441.67 1510.75 431.25 1514.50 420.00C1518.25 408.75 1522.83 396.67 1527.00 387.50C1531.17 378.33 1536.00 370.67 1539.50 365.00C1543.00 359.33 1546.58 355.42 1548.00 353.50L1560.0 343.3L1574.1 327.6L1580.4 315.1L1583.5 307.2L1591.3 299.4L1602.3 290.0L1607.0 280.6L1610.9 273.6L1617.2 271.2L1625.0 270.4L1632.1 265.7L1645.4 253.2L1654.0 250.9L1668.1 241.5L1676.7 236.0L1679.8 227.4L1683.0 219.5L1690.0 218.0L1696.3 212.5L1704.1 210.9L1716.6 204.6L1732.3 201.5L1740.1 198.4L1755.8 195.7L1779.3 192.9L1790.3 190.5L1804.4 190.1L1821.6 190.5L1829.4 187.9L1837.3 190.1L1843.5 188.2L1851.4 190.2L1865.3 189.3"/>
<line x1="307.5" y1="1278.4" x2="451.5" y2="1278.4"/>
<line x1="307.5" y1="1358.4" x2="431.2" y2="1358.4" stroke-dasharray="35 24 5 24"/>
</g>
<g fill="#000" shape-rendering="crispEdges">
<rect x="283" y="32" width="5" height="1393"/>
<rect x="1985" y="32" width="5" height="1393"/>
<rect x="283" y="32" width="1707" height="6"/>
<rect x="283" y="1419" width="1707" height="6"/>
</g>
<g stroke="#000">
<line x1="285.50" y1="1422.00" x2="285.50" y2="1449.50" stroke-width="5"/>
<line x1="406.62" y1="1422.00" x2="406.62" y2="1435.00" stroke-width="5"/>
<line x1="406.62" y1="35.00" x2="406.62" y2="48.00" stroke-width="5"/>
<line x1="528.19" y1="1422.00" x2="528.19" y2="1449.50" stroke-width="5"/>
<line x1="528.19" y1="35.00" x2="528.19" y2="62.50" stroke-width="5"/>
<line x1="649.76" y1="1422.00" x2="649.76" y2="1435.00" stroke-width="5"/>
<line x1="649.76" y1="35.00" x2="649.76" y2="48.00" stroke-width="5"/>
<line x1="771.34" y1="1422.00" x2="771.34" y2="1449.50" stroke-width="5"/>
<line x1="771.34" y1="35.00" x2="771.34" y2="62.50" stroke-width="5"/>
<line x1="892.91" y1="1422.00" x2="892.91" y2="1435.00" stroke-width="5"/>
<line x1="892.91" y1="35.00" x2="892.91" y2="48.00" stroke-width="5"/>
<line x1="1014.48" y1="1422.00" x2="1014.48" y2="1449.50" stroke-width="5"/>
<line x1="1014.48" y1="35.00" x2="1014.48" y2="62.50" stroke-width="5"/>
<line x1="1136.05" y1="1422.00" x2="1136.05" y2="1435.00" stroke-width="5"/>
<line x1="1136.05" y1="35.00" x2="1136.05" y2="48.00" stroke-width="5"/>
<line x1="1257.62" y1="1422.00" x2="1257.62" y2="1449.50" stroke-width="5"/>
<line x1="1257.62" y1="35.00" x2="1257.62" y2="62.50" stroke-width="5"/>
<line x1="1379.19" y1="1422.00" x2="1379.19" y2="1435.00" stroke-width="5"/>
<line x1="1379.19" y1="35.00" x2="1379.19" y2="48.00" stroke-width="5"/>
<line x1="1500.76" y1="1422.00" x2="1500.76" y2="1449.50" stroke-width="5"/>
<line x1="1500.76" y1="35.00" x2="1500.76" y2="62.50" stroke-width="5"/>
<line x1="1622.34" y1="1422.00" x2="1622.34" y2="1435.00" stroke-width="5"/>
<line x1="1622.34" y1="35.00" x2="1622.34" y2="48.00" stroke-width="5"/>
<line x1="1743.91" y1="1422.00" x2="1743.91" y2="1449.50" stroke-width="5"/>
<line x1="1743.91" y1="35.00" x2="1743.91" y2="62.50" stroke-width="5"/>
<line x1="1865.48" y1="1422.00" x2="1865.48" y2="1435.00" stroke-width="5"/>
<line x1="1865.48" y1="35.00" x2="1865.48" y2="48.00" stroke-width="5"/>
<line x1="1987.50" y1="1422.00" x2="1987.50" y2="1449.50" stroke-width="5"/>
<line x1="285.50" y1="167.60" x2="258.50" y2="167.60" stroke-width="5.6"/>
<line x1="1987.50" y1="167.60" x2="1960.50" y2="167.60" stroke-width="5.6"/>
<line x1="285.50" y1="233.62" x2="273.00" y2="233.62" stroke-width="5.6"/>
<line x1="1987.50" y1="233.62" x2="1975.00" y2="233.62" stroke-width="5.6"/>
<line x1="285.50" y1="299.65" x2="258.50" y2="299.65" stroke-width="5.6"/>
<line x1="1987.50" y1="299.65" x2="1960.50" y2="299.65" stroke-width="5.6"/>
<line x1="285.50" y1="365.67" x2="273.00" y2="365.67" stroke-width="5.6"/>
<line x1="1987.50" y1="365.67" x2="1975.00" y2="365.67" stroke-width="5.6"/>
<line x1="285.50" y1="431.70" x2="258.50" y2="431.70" stroke-width="5.6"/>
<line x1="1987.50" y1="431.70" x2="1960.50" y2="431.70" stroke-width="5.6"/>
<line x1="285.50" y1="497.73" x2="273.00" y2="497.73" stroke-width="5.6"/>
<line x1="1987.50" y1="497.73" x2="1975.00" y2="497.73" stroke-width="5.6"/>
<line x1="285.50" y1="563.75" x2="258.50" y2="563.75" stroke-width="5.6"/>
<line x1="1987.50" y1="563.75" x2="1960.50" y2="563.75" stroke-width="5.6"/>
<line x1="285.50" y1="629.77" x2="273.00" y2="629.77" stroke-width="5.6"/>
<line x1="1987.50" y1="629.77" x2="1975.00" y2="629.77" stroke-width="5.6"/>
<line x1="285.50" y1="695.80" x2="258.50" y2="695.80" stroke-width="5.6"/>
<line x1="1987.50" y1="695.80" x2="1960.50" y2="695.80" stroke-width="5.6"/>
<line x1="285.50" y1="761.83" x2="273.00" y2="761.83" stroke-width="5.6"/>
<line x1="1987.50" y1="761.83" x2="1975.00" y2="761.83" stroke-width="5.6"/>
<line x1="285.50" y1="827.85" x2="258.50" y2="827.85" stroke-width="5.6"/>
<line x1="1987.50" y1="827.85" x2="1960.50" y2="827.85" stroke-width="5.6"/>
<line x1="285.50" y1="893.88" x2="273.00" y2="893.88" stroke-width="5.6"/>
<line x1="1987.50" y1="893.88" x2="1975.00" y2="893.88" stroke-width="5.6"/>
<line x1="285.50" y1="959.90" x2="258.50" y2="959.90" stroke-width="5.6"/>
<line x1="1987.50" y1="959.90" x2="1960.50" y2="959.90" stroke-width="5.6"/>
<line x1="285.50" y1="1025.92" x2="273.00" y2="1025.92" stroke-width="5.6"/>
<line x1="1987.50" y1="1025.92" x2="1975.00" y2="1025.92" stroke-width="5.6"/>
<line x1="285.50" y1="1091.95" x2="258.50" y2="1091.95" stroke-width="5.6"/>
<line x1="1987.50" y1="1091.95" x2="1960.50" y2="1091.95" stroke-width="5.6"/>
<line x1="285.50" y1="1157.97" x2="273.00" y2="1157.97" stroke-width="5.6"/>
<line x1="1987.50" y1="1157.97" x2="1975.00" y2="1157.97" stroke-width="5.6"/>
<line x1="285.50" y1="1224.00" x2="258.50" y2="1224.00" stroke-width="5.6"/>
<line x1="1987.50" y1="1224.00" x2="1960.50" y2="1224.00" stroke-width="5.6"/>
<line x1="285.50" y1="1290.02" x2="273.00" y2="1290.02" stroke-width="5.6"/>
<line x1="1987.50" y1="1290.02" x2="1975.00" y2="1290.02" stroke-width="5.6"/>
<line x1="285.50" y1="1356.05" x2="258.50" y2="1356.05" stroke-width="5.6"/>
<line x1="1987.50" y1="1356.05" x2="1960.50" y2="1356.05" stroke-width="5.6"/>
</g>
<g font-size="66px">
<text x="285.50" y="1517.60" text-anchor="middle">0</text>
<text x="528.64" y="1517.60" text-anchor="middle">2</text>
<text x="771.79" y="1517.60" text-anchor="middle">4</text>
<text x="1014.93" y="1517.60" text-anchor="middle">6</text>
<text x="1258.07" y="1517.60" text-anchor="middle">8</text>
<text x="1500.51" y="1517.60" text-anchor="middle">10</text>
<text x="1743.66" y="1517.60" text-anchor="middle">12</text>
<text x="1986.80" y="1517.60" text-anchor="middle">14</text>
<text x="240.50" y="186.20" text-anchor="end">0</text>
<text y="318.25" text-anchor="end"><tspan x="203.00">−</tspan><tspan x="240.50">5</tspan></text>
<text y="450.30" text-anchor="end"><tspan x="179.10">−</tspan><tspan x="240.50">10</tspan></text>
<text y="582.35" text-anchor="end"><tspan x="178.90">−</tspan><tspan x="240.50">15</tspan></text>
<text y="714.40" text-anchor="end"><tspan x="174.60">−</tspan><tspan x="240.50">20</tspan></text>
<text y="846.45" text-anchor="end"><tspan x="174.00">−</tspan><tspan x="240.50">25</tspan></text>
<text y="978.50" text-anchor="end"><tspan x="173.20">−</tspan><tspan x="240.50">30</tspan></text>
<text y="1110.55" text-anchor="end"><tspan x="175.10">−</tspan><tspan x="240.50">35</tspan></text>
<text y="1242.60" text-anchor="end"><tspan x="170.80">−</tspan><tspan x="240.50">40</tspan></text>
<text y="1374.65" text-anchor="end"><tspan x="172.10">−</tspan><tspan x="240.50">45</tspan></text>
</g>
<text x="1136.00" y="1632.50" font-size="72.0px" text-anchor="middle" letter-spacing="-0.2">Frequency (GHz)</text>
<text transform="translate(74.00 729.30) rotate(-90)" font-size="72.3px" text-anchor="middle">S-parameters (dB)</text>
<text x="466.00" y="1298.50" font-size="65.0px">Measured</text>
<text x="468.00" y="1379.50" font-size="65.0px" letter-spacing="-0.45">Simulated</text>
<text x="572.90" y="291.70" font-size="73.0px">S<tspan font-size="47.5px" dx="0.5" dy="19.3">11</tspan></text>
<text x="1238.90" y="132.70" font-size="73.0px">S<tspan font-size="47.5px" dx="-2.2" dy="19.9">21</tspan></text>
<ellipse cx="709" cy="192.3" rx="15.6" ry="41" fill="none" stroke="#000" stroke-width="1.4"/>
<circle cx="1135.5" cy="176.4" r="16" fill="none" stroke="#000" stroke-width="1.4"/>
<line x1="632.40" y1="260.00" x2="669.00" y2="233.60" stroke="#000" stroke-width="2.90" stroke-linecap="round"/><polygon points="695.20,214.70 666.81,248.50 669.00,233.60 654.17,230.98" fill="#000"/>
<line x1="1231.80" y1="119.50" x2="1176.01" y2="147.79" stroke="#000" stroke-width="2.90" stroke-linecap="round"/><polygon points="1147.20,162.40 1180.49,133.41 1176.01,147.79 1190.26,152.68" fill="#000"/>
</svg>
</body></html>
